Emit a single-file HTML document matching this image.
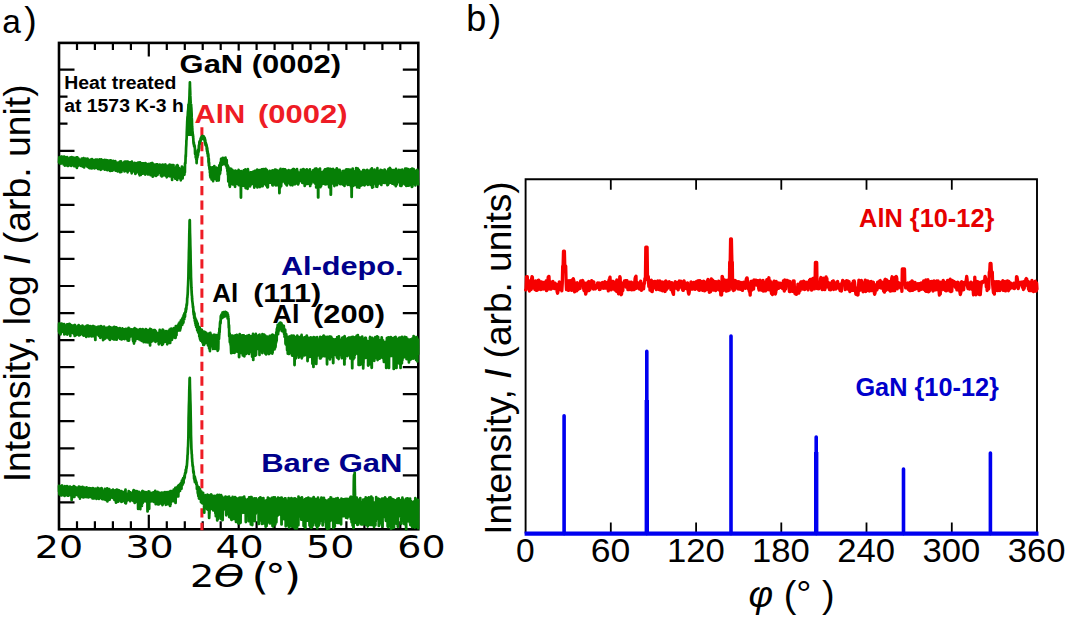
<!DOCTYPE html>
<html lang="en"><head><meta charset="utf-8"><title>XRD figure</title>
<style>html,body{margin:0;padding:0;background:#fff}svg{display:block}</style></head>
<body>
<svg width="1066" height="620" viewBox="0 0 1066 620">
<rect width="100%" height="100%" fill="#fff"/>
<path d="M77.0 42.9v7 M77.0 529.3v-8 M94.9 42.9v7 M94.9 529.3v-8 M112.9 42.9v7 M112.9 529.3v-8 M130.9 42.9v7 M130.9 529.3v-8 M148.8 42.9v13.5 M148.8 529.3v-14.5 M166.8 42.9v7 M166.8 529.3v-8 M184.8 42.9v7 M184.8 529.3v-8 M202.7 42.9v7 M202.7 529.3v-8 M220.7 42.9v7 M220.7 529.3v-8 M238.7 42.9v13.5 M238.7 529.3v-14.5 M256.6 42.9v7 M256.6 529.3v-8 M274.6 42.9v7 M274.6 529.3v-8 M292.5 42.9v7 M292.5 529.3v-8 M310.5 42.9v7 M310.5 529.3v-8 M328.5 42.9v13.5 M328.5 529.3v-14.5 M346.4 42.9v7 M346.4 529.3v-8 M364.4 42.9v7 M364.4 529.3v-8 M382.4 42.9v7 M382.4 529.3v-8 M400.3 42.9v7 M400.3 529.3v-8 M59.0 69.6h15.5 M418.3 69.6h-15.5 M59.0 96.6h15.5 M418.3 96.6h-15.5 M59.0 123.7h15.5 M418.3 123.7h-15.5 M59.0 150.8h15.5 M418.3 150.8h-15.5 M59.0 177.8h15.5 M418.3 177.8h-15.5 M59.0 204.8h15.5 M418.3 204.8h-15.5 M59.0 231.9h15.5 M418.3 231.9h-15.5 M59.0 258.9h15.5 M418.3 258.9h-15.5 M59.0 286.0h15.5 M418.3 286.0h-15.5 M59.0 313.1h15.5 M418.3 313.1h-15.5 M59.0 340.1h15.5 M418.3 340.1h-15.5 M59.0 367.1h15.5 M418.3 367.1h-15.5 M59.0 394.2h15.5 M418.3 394.2h-15.5 M59.0 421.2h15.5 M418.3 421.2h-15.5 M59.0 448.3h15.5 M418.3 448.3h-15.5 M59.0 475.4h15.5 M418.3 475.4h-15.5 M59.0 502.4h15.5 M418.3 502.4h-15.5" stroke="#000" stroke-width="2.2" fill="none"/>
<rect x="177" y="50.6" width="166" height="28" fill="#fff"/>
<rect x="67.5" y="74" width="118" height="60" fill="#fff"/>
<rect x="59.0" y="42.9" width="359.3" height="486.4" fill="none" stroke="#000" stroke-width="2.6"/>
<path d="M201.9 127.3V530.3" stroke="#ee1c25" stroke-width="3" stroke-dasharray="9.3 5.35" fill="none"/>
<path d="M59.0 485.9L59.1 491.6L59.3 491.7L59.4 494.2L59.6 493.5L59.7 489.9L59.8 494.3L60.0 487.0L60.1 493.2L60.3 494.7L60.4 486.5L60.5 486.9L60.7 495.3L60.8 493.8L61.0 494.7L61.1 494.6L61.2 486.2L61.4 494.4L61.5 489.3L61.7 491.1L61.8 485.7L61.9 495.3L62.1 485.6L62.2 485.6L62.4 489.2L62.5 486.9L62.6 488.2L62.8 487.0L62.9 487.7L63.1 492.8L63.2 494.3L63.3 493.4L63.5 486.9L63.6 491.4L63.8 494.3L63.9 489.1L64.0 495.3L64.2 490.2L64.3 494.9L64.5 494.0L64.6 495.9L64.7 486.6L64.9 486.2L65.0 489.6L65.2 494.2L65.3 493.2L65.4 494.0L65.6 491.2L65.7 494.8L65.9 492.7L66.0 486.7L66.1 493.5L66.3 494.8L66.4 493.7L66.6 487.0L66.7 492.3L66.8 488.2L67.0 486.1L67.1 487.2L67.3 492.2L67.4 487.3L67.5 486.5L67.7 495.7L67.8 491.4L68.0 493.3L68.1 489.3L68.2 488.2L68.4 495.0L68.5 495.6L68.7 494.4L68.8 493.6L68.9 486.8L69.1 494.1L69.2 493.6L69.4 494.2L69.5 487.4L69.6 487.8L69.8 487.1L69.9 489.3L70.1 486.6L70.2 488.0L70.3 493.4L70.5 487.6L70.6 493.3L70.8 495.5L70.9 489.1L71.0 487.2L71.2 490.7L71.3 495.0L71.5 490.8L71.6 500.0L71.7 500.0L71.9 492.8L72.0 487.3L72.2 492.0L72.3 492.7L72.4 493.5L72.6 494.9L72.7 494.6L72.9 487.6L73.0 487.4L73.1 487.0L73.3 493.5L73.4 489.6L73.6 497.0L73.7 490.0L73.8 486.2L74.0 486.9L74.1 495.3L74.3 495.4L74.4 497.0L74.5 488.4L74.7 486.6L74.8 492.7L75.0 488.4L75.1 487.3L75.2 488.2L75.4 490.1L75.5 489.9L75.7 488.7L75.8 494.9L75.9 491.0L76.1 493.5L76.2 493.7L76.4 487.5L76.5 488.4L76.6 488.4L76.8 494.1L76.9 489.4L77.1 494.3L77.2 492.9L77.3 494.4L77.5 493.7L77.6 494.8L77.8 489.6L77.9 493.9L78.0 487.6L78.2 493.9L78.3 492.4L78.5 487.3L78.6 496.6L78.7 492.7L78.9 486.6L79.0 489.7L79.2 492.5L79.3 490.2L79.4 488.7L79.6 492.5L79.7 487.9L79.9 496.2L80.0 498.6L80.1 490.1L80.3 494.6L80.4 489.3L80.6 487.2L80.7 495.3L80.8 488.5L81.0 488.0L81.1 495.8L81.3 494.1L81.4 495.8L81.5 491.3L81.7 487.7L81.8 493.2L82.0 496.6L82.1 488.5L82.2 489.1L82.4 491.4L82.5 486.9L82.7 496.0L82.8 488.1L82.9 488.5L83.1 492.3L83.2 497.4L83.4 491.8L83.5 497.4L83.6 488.0L83.8 495.6L83.9 495.4L84.1 495.2L84.2 487.5L84.3 492.9L84.5 489.9L84.6 497.0L84.8 491.1L84.9 495.1L85.0 494.6L85.2 495.5L85.3 496.6L85.5 489.1L85.6 494.9L85.7 496.7L85.9 492.6L86.0 496.4L86.2 488.9L86.3 497.1L86.4 490.2L86.6 487.3L86.7 489.0L86.9 490.7L87.0 495.8L87.1 496.1L87.3 489.3L87.4 495.2L87.6 494.9L87.7 496.7L87.8 490.1L88.0 491.6L88.1 492.4L88.3 497.4L88.4 494.5L88.5 497.0L88.7 490.4L88.8 491.0L89.0 495.3L89.1 488.2L89.2 493.6L89.4 495.5L89.5 496.8L89.7 489.4L89.8 490.6L89.9 495.8L90.1 489.1L90.2 490.9L90.4 488.4L90.5 497.0L90.6 490.6L90.8 494.5L90.9 488.5L91.1 495.1L91.2 491.3L91.3 488.7L91.5 496.6L91.6 496.6L91.8 497.5L91.9 496.4L92.0 490.5L92.2 494.7L92.3 492.5L92.5 498.5L92.6 488.4L92.7 491.9L92.9 488.0L93.0 489.0L93.2 493.0L93.3 493.5L93.4 490.3L93.6 489.5L93.7 493.2L93.9 490.3L94.0 497.9L94.1 498.4L94.3 495.8L94.4 494.8L94.6 494.2L94.7 496.5L94.8 496.1L95.0 488.9L95.1 490.6L95.3 488.6L95.4 490.3L95.5 496.0L95.7 489.5L95.8 489.3L96.0 493.4L96.1 496.6L96.2 494.1L96.4 488.8L96.5 498.9L96.7 494.3L96.8 489.7L96.9 496.7L97.1 497.8L97.2 488.6L97.4 492.0L97.5 489.1L97.6 490.2L97.8 487.8L97.9 492.7L98.1 488.3L98.2 496.4L98.3 492.8L98.5 489.6L98.6 488.5L98.8 493.7L98.9 490.5L99.0 498.9L99.2 497.3L99.3 498.5L99.5 489.4L99.6 492.1L99.7 496.3L99.9 492.0L100.0 496.2L100.2 495.4L100.3 488.6L100.4 494.3L100.6 493.0L100.7 490.9L100.9 493.4L101.0 492.2L101.1 489.8L101.3 489.9L101.4 497.4L101.6 495.3L101.7 488.6L101.8 488.2L102.0 498.9L102.1 495.1L102.3 499.1L102.4 497.9L102.5 494.1L102.7 491.4L102.8 498.3L103.0 495.9L103.1 496.8L103.2 492.4L103.4 497.3L103.5 491.2L103.7 498.4L103.8 491.0L103.9 491.6L104.1 495.4L104.2 499.2L104.4 497.7L104.5 494.1L104.6 491.2L104.8 498.0L104.9 488.9L105.1 494.6L105.2 491.3L105.3 492.0L105.5 499.9L105.6 489.5L105.8 489.8L105.9 491.0L106.0 495.2L106.2 497.0L106.3 499.4L106.5 491.2L106.6 495.8L106.7 489.9L106.9 488.9L107.0 497.4L107.2 488.3L107.3 498.7L107.4 501.4L107.6 489.0L107.7 489.3L107.9 493.7L108.0 490.1L108.1 496.0L108.3 490.6L108.4 491.3L108.6 491.0L108.7 498.0L108.8 498.6L109.0 491.5L109.1 499.8L109.3 489.0L109.4 490.3L109.5 491.1L109.7 499.7L109.8 496.2L110.0 497.2L110.1 491.5L110.2 494.6L110.4 494.6L110.5 497.3L110.7 491.9L110.8 491.1L110.9 492.5L111.1 490.6L111.2 495.5L111.4 496.8L111.5 490.8L111.6 495.8L111.8 490.3L111.9 490.6L112.1 490.2L112.2 497.8L112.3 493.1L112.5 493.8L112.6 492.9L112.8 492.9L112.9 495.6L113.0 489.6L113.2 492.9L113.3 498.0L113.5 490.6L113.6 496.5L113.7 493.4L113.9 492.7L114.0 493.1L114.2 494.7L114.3 493.1L114.4 500.0L114.6 495.1L114.7 498.5L114.9 498.9L115.0 492.9L115.1 490.3L115.3 496.1L115.4 496.3L115.6 499.3L115.7 493.8L115.8 500.8L116.0 502.6L116.1 497.4L116.3 502.5L116.4 500.1L116.5 491.7L116.7 489.7L116.8 500.0L117.0 494.3L117.1 494.5L117.2 496.6L117.4 492.2L117.5 490.1L117.7 491.2L117.8 489.9L117.9 496.9L118.1 498.0L118.2 501.6L118.4 492.9L118.5 492.2L118.6 497.1L118.8 493.4L118.9 498.2L119.1 490.3L119.2 491.9L119.3 492.1L119.5 499.6L119.6 492.8L119.8 492.6L119.9 491.4L120.0 492.7L120.2 500.3L120.3 497.6L120.5 491.9L120.6 499.8L120.7 491.5L120.9 501.2L121.0 500.2L121.2 494.7L121.3 491.2L121.4 501.9L121.6 497.5L121.7 492.3L121.9 498.2L122.0 491.5L122.1 497.0L122.3 501.0L122.4 501.4L122.6 493.4L122.7 492.6L122.8 500.8L123.0 497.2L123.1 499.7L123.3 494.9L123.4 497.7L123.5 497.1L123.7 496.8L123.8 492.2L124.0 495.6L124.1 500.9L124.2 497.9L124.4 500.6L124.5 501.2L124.7 494.3L124.8 493.8L124.9 491.8L125.1 499.1L125.2 503.0L125.4 491.9L125.5 489.6L125.6 503.3L125.8 497.3L125.9 503.3L126.1 502.5L126.2 497.6L126.3 497.4L126.5 497.3L126.6 500.9L126.8 500.8L126.9 496.1L127.0 496.2L127.2 496.5L127.3 497.1L127.5 498.4L127.6 498.1L127.7 498.4L127.9 493.7L128.0 499.1L128.2 497.7L128.3 496.5L128.4 497.0L128.6 493.1L128.7 491.0L128.9 491.2L129.0 496.8L129.1 499.8L129.3 492.3L129.4 492.5L129.6 495.2L129.7 500.6L129.8 493.7L130.0 501.2L130.1 500.9L130.3 492.4L130.4 498.5L130.5 497.8L130.7 499.1L130.8 496.5L131.0 497.5L131.1 494.0L131.2 493.0L131.4 496.6L131.5 496.7L131.7 499.2L131.8 498.6L131.9 499.9L132.1 497.5L132.2 496.3L132.4 500.3L132.5 499.1L132.6 494.2L132.8 492.7L132.9 500.7L133.1 492.3L133.2 491.2L133.3 494.9L133.5 492.3L133.6 490.2L133.8 493.4L133.9 501.5L134.0 498.3L134.2 498.7L134.3 496.3L134.5 492.2L134.6 490.7L134.7 502.9L134.9 495.9L135.0 500.3L135.2 498.2L135.3 491.1L135.4 500.4L135.6 500.7L135.7 493.6L135.9 499.8L136.0 497.8L136.1 493.4L136.3 493.1L136.4 492.8L136.6 493.5L136.7 498.7L136.8 491.1L137.0 494.0L137.1 497.1L137.3 500.6L137.4 502.3L137.5 499.1L137.7 491.6L137.8 492.6L138.0 499.6L138.1 509.0L138.2 509.0L138.4 494.1L138.5 497.5L138.7 500.2L138.8 493.0L138.9 495.1L139.1 492.1L139.2 491.9L139.4 493.5L139.5 493.0L139.6 493.5L139.8 498.5L139.9 495.7L140.1 500.1L140.2 509.1L140.3 509.1L140.5 502.4L140.6 493.1L140.8 498.3L140.9 493.7L141.0 497.3L141.2 501.3L141.3 503.4L141.5 498.2L141.6 502.0L141.7 495.9L141.9 505.9L142.0 501.2L142.2 503.4L142.3 491.2L142.4 500.2L142.6 499.4L142.7 491.0L142.9 502.8L143.0 491.9L143.1 497.5L143.3 502.0L143.4 501.1L143.6 501.7L143.7 491.7L143.8 499.7L144.0 499.9L144.1 495.3L144.3 493.0L144.4 494.7L144.5 498.5L144.7 500.5L144.8 494.3L145.0 499.5L145.1 498.7L145.2 493.9L145.4 499.4L145.5 492.6L145.7 494.5L145.8 495.2L145.9 492.1L146.1 501.5L146.2 494.4L146.4 496.5L146.5 501.0L146.6 498.0L146.8 500.2L146.9 497.1L147.1 499.4L147.2 501.5L147.3 492.7L147.5 511.5L147.6 511.5L147.8 498.0L147.9 495.4L148.0 492.4L148.2 501.3L148.3 501.8L148.5 503.9L148.6 491.3L148.7 498.0L148.9 503.5L149.0 508.8L149.2 508.8L149.3 493.2L149.4 491.7L149.6 497.7L149.7 501.0L149.9 498.6L150.0 496.4L150.1 498.1L150.3 499.8L150.4 499.0L150.6 495.1L150.7 500.9L150.8 499.4L151.0 500.7L151.1 501.4L151.3 497.5L151.4 493.6L151.5 495.1L151.7 493.0L151.8 493.7L152.0 496.3L152.1 497.4L152.2 499.7L152.4 493.4L152.5 492.5L152.7 500.2L152.8 493.7L152.9 496.0L153.1 500.9L153.2 496.0L153.4 494.3L153.5 501.8L153.6 501.4L153.8 493.8L153.9 494.9L154.1 492.0L154.2 493.9L154.3 495.9L154.5 493.0L154.6 492.1L154.8 493.6L154.9 499.3L155.0 495.4L155.2 490.8L155.3 492.1L155.5 492.9L155.6 499.4L155.7 504.2L155.9 503.9L156.0 503.4L156.2 500.9L156.3 501.7L156.4 492.6L156.6 494.4L156.7 496.0L156.9 494.9L157.0 500.4L157.1 494.2L157.3 493.7L157.4 501.1L157.6 491.8L157.7 499.1L157.8 501.8L158.0 501.4L158.1 504.4L158.3 501.7L158.4 492.8L158.5 502.8L158.7 504.5L158.8 500.5L159.0 498.8L159.1 496.7L159.2 493.5L159.4 492.7L159.5 493.9L159.7 501.4L159.8 495.9L159.9 500.8L160.1 493.8L160.2 494.9L160.4 501.0L160.5 503.4L160.6 503.3L160.8 493.8L160.9 494.8L161.1 497.8L161.2 499.7L161.3 492.8L161.5 494.5L161.6 492.5L161.8 503.8L161.9 502.1L162.0 499.2L162.2 499.8L162.3 501.9L162.5 505.1L162.6 497.0L162.7 495.3L162.9 504.3L163.0 501.6L163.2 502.3L163.3 492.5L163.4 496.6L163.6 494.2L163.7 495.9L163.9 494.1L164.0 499.1L164.1 492.6L164.3 500.5L164.4 499.1L164.6 501.8L164.7 499.8L164.8 493.3L165.0 492.2L165.1 493.5L165.3 503.2L165.4 497.0L165.5 495.3L165.7 502.6L165.8 504.8L166.0 494.1L166.1 494.4L166.2 493.4L166.4 503.4L166.5 492.3L166.7 499.6L166.8 500.7L166.9 504.2L167.1 492.0L167.2 496.9L167.4 501.9L167.5 496.9L167.6 501.7L167.8 492.7L167.9 501.1L168.1 492.8L168.2 504.1L168.3 501.1L168.5 493.7L168.6 492.0L168.8 495.2L168.9 499.7L169.0 495.4L169.2 492.1L169.3 495.9L169.5 495.7L169.6 492.2L169.7 500.8L169.9 492.5L170.0 506.0L170.2 506.0L170.3 504.7L170.4 491.2L170.6 504.5L170.7 493.6L170.9 492.6L171.0 493.5L171.1 502.1L171.3 494.3L171.4 491.2L171.6 492.4L171.7 498.9L171.8 495.5L172.0 492.4L172.1 500.0L172.3 492.3L172.4 493.3L172.5 493.7L172.7 500.8L172.8 491.2L173.0 493.2L173.1 498.7L173.2 491.1L173.4 501.0L173.5 501.2L173.7 489.6L173.8 492.8L173.9 496.7L174.1 495.6L174.2 493.8L174.4 492.8L174.5 489.6L174.6 495.8L174.8 492.1L174.9 492.9L175.1 488.7L175.2 496.4L175.3 487.9L175.5 502.9L175.6 502.9L175.8 495.1L175.9 490.4L176.0 494.1L176.2 495.2L176.3 489.2L176.5 490.9L176.6 487.5L176.7 494.8L176.9 490.0L177.0 491.9L177.2 489.2L177.3 490.4L177.4 494.0L177.6 488.5L177.7 489.1L177.9 490.8L178.0 486.0L178.1 496.4L178.3 496.4L178.4 493.5L178.6 486.9L178.7 492.2L178.8 485.1L179.0 488.2L179.1 488.1L179.3 485.2L179.4 489.7L179.5 490.1L179.7 490.5L179.8 490.5L180.0 490.9L180.1 484.4L180.2 488.8L180.4 488.1L180.5 484.7L180.7 487.8L180.8 487.2L180.9 483.1L181.1 487.1L181.2 488.4L181.4 487.0L181.5 488.6L181.6 484.1L181.8 481.5L181.9 480.7L182.1 485.3L182.2 483.0L182.3 483.0L182.5 482.8L182.6 484.7L182.8 479.2L182.9 480.8L183.0 483.8L183.2 478.2L183.3 479.4L183.5 482.6L183.6 482.6L183.7 478.5L183.9 479.3L184.0 477.7L184.2 478.9L184.3 476.2L184.4 475.9L184.6 477.5L184.7 477.7L184.9 474.2L185.0 473.9L185.1 473.1L185.3 473.9L185.4 473.0L185.6 472.3L185.7 469.8L185.8 472.9L186.0 471.6L186.1 470.9L186.3 467.9L186.4 466.5L186.5 468.3L186.7 466.2L186.8 466.5L187.0 463.8L187.1 462.7L187.2 460.6L187.4 458.5L187.5 455.4L187.7 454.1L187.8 451.4L187.9 448.1L188.1 446.1L188.2 442.4L188.4 436.2L188.5 427.4L188.6 418.0L188.8 410.9L188.9 405.5L189.1 400.3L189.2 394.8L189.3 389.3L189.5 384.0L189.6 378.6L189.8 377.8L189.9 383.2L190.0 388.5L190.2 393.9L190.3 399.3L190.5 404.8L190.6 410.2L190.7 416.4L190.9 425.5L191.0 434.7L191.2 441.2L191.3 444.8L191.4 448.6L191.6 451.1L191.7 453.7L191.9 454.6L192.0 458.3L192.1 458.2L192.3 462.2L192.4 462.2L192.6 466.0L192.7 464.8L192.8 466.8L193.0 466.4L193.1 468.4L193.3 472.2L193.4 470.1L193.5 472.9L193.7 471.6L193.8 473.0L194.0 476.6L194.1 478.8L194.2 478.5L194.4 478.1L194.5 478.9L194.7 481.1L194.8 476.6L194.9 482.2L195.1 477.9L195.2 478.5L195.4 480.6L195.5 481.1L195.6 480.8L195.8 480.3L195.9 482.0L196.1 481.5L196.2 483.2L196.3 484.3L196.5 482.4L196.6 484.7L196.8 484.5L196.9 488.9L197.0 484.9L197.2 488.3L197.3 487.7L197.5 488.0L197.6 486.3L197.7 492.2L197.9 493.6L198.0 487.1L198.2 490.6L198.3 495.6L198.4 496.2L198.6 487.0L198.7 487.0L198.9 487.8L199.0 498.6L199.1 488.3L199.3 497.5L199.4 490.3L199.6 489.0L199.7 492.3L199.8 490.5L200.0 489.1L200.1 498.4L200.3 491.8L200.4 499.2L200.5 494.2L200.7 494.5L200.8 492.5L201.0 502.2L201.1 493.5L201.2 501.2L201.4 491.6L201.5 502.2L201.7 501.7L201.8 500.7L201.9 495.9L202.1 501.2L202.2 503.2L202.4 503.1L202.5 492.5L202.6 495.0L202.8 503.2L202.9 496.6L203.1 492.9L203.2 496.6L203.3 500.6L203.5 499.8L203.6 503.9L203.8 500.0L203.9 502.3L204.0 501.8L204.2 512.7L204.3 512.7L204.5 498.4L204.6 496.1L204.7 496.5L204.9 504.6L205.0 505.1L205.2 502.5L205.3 496.4L205.4 496.1L205.6 495.2L205.7 496.9L205.9 495.7L206.0 497.3L206.1 497.6L206.3 498.9L206.4 498.8L206.6 498.9L206.7 496.3L206.8 503.0L207.0 508.9L207.1 505.1L207.3 505.7L207.4 495.5L207.5 494.6L207.7 509.7L207.8 498.5L208.0 502.2L208.1 495.8L208.2 507.1L208.4 499.8L208.5 502.6L208.7 505.3L208.8 495.3L208.9 506.6L209.1 517.9L209.2 517.9L209.4 513.4L209.5 513.4L209.6 504.3L209.8 510.1L209.9 509.6L210.1 500.3L210.2 496.7L210.3 500.0L210.5 505.7L210.6 495.8L210.8 494.6L210.9 497.6L211.0 494.7L211.2 501.5L211.3 494.5L211.5 497.7L211.6 497.1L211.7 509.0L211.9 503.8L212.0 499.0L212.2 495.7L212.3 508.4L212.4 496.4L212.6 501.0L212.7 505.5L212.9 497.0L213.0 505.1L213.1 498.1L213.3 510.5L213.4 510.0L213.6 506.9L213.7 505.8L213.8 497.6L214.0 509.7L214.1 505.7L214.3 507.9L214.4 500.5L214.5 495.9L214.7 496.2L214.8 508.8L215.0 498.3L215.1 508.7L215.2 498.6L215.4 513.6L215.5 513.6L215.7 497.8L215.8 516.2L215.9 516.2L216.1 495.8L216.2 504.2L216.4 511.1L216.5 510.0L216.6 510.4L216.8 497.3L216.9 495.3L217.1 497.9L217.2 520.5L217.3 520.5L217.5 498.9L217.6 494.8L217.8 496.4L217.9 509.4L218.0 507.0L218.2 507.2L218.3 496.4L218.5 518.6L218.6 515.2L218.7 515.2L218.9 512.2L219.0 500.9L219.2 497.3L219.3 495.2L219.4 499.7L219.6 495.1L219.7 497.8L219.9 506.3L220.0 499.6L220.1 496.1L220.3 499.1L220.4 500.5L220.6 500.3L220.7 499.4L220.8 507.7L221.0 508.2L221.1 495.1L221.3 519.2L221.4 519.2L221.5 507.6L221.7 515.0L221.8 515.0L222.0 497.9L222.1 499.9L222.2 496.7L222.4 503.6L222.5 520.1L222.7 520.1L222.8 497.8L222.9 508.7L223.1 508.1L223.2 501.0L223.4 505.5L223.5 500.0L223.6 499.2L223.8 509.3L223.9 508.9L224.1 508.4L224.2 499.4L224.3 505.4L224.5 506.0L224.6 498.1L224.8 498.9L224.9 507.2L225.0 497.3L225.2 501.2L225.3 508.2L225.5 496.5L225.6 509.7L225.7 497.0L225.9 510.0L226.0 508.4L226.2 515.3L226.3 515.3L226.4 500.2L226.6 497.6L226.7 500.1L226.9 501.2L227.0 500.5L227.1 498.6L227.3 497.0L227.4 498.1L227.6 512.0L227.7 499.5L227.8 505.3L228.0 513.6L228.1 507.9L228.3 498.4L228.4 506.7L228.5 512.7L228.7 498.2L228.8 500.7L229.0 510.1L229.1 496.5L229.2 517.1L229.4 517.1L229.5 506.1L229.7 506.1L229.8 501.9L229.9 509.6L230.1 501.4L230.2 498.2L230.4 510.1L230.5 505.7L230.6 510.5L230.8 501.5L230.9 507.2L231.1 501.0L231.2 519.0L231.3 519.0L231.5 519.9L231.6 519.9L231.8 502.1L231.9 499.1L232.0 510.4L232.2 514.1L232.3 501.9L232.5 502.5L232.6 496.9L232.7 504.2L232.9 518.9L233.0 518.9L233.2 508.7L233.3 510.5L233.4 499.7L233.6 501.0L233.7 501.9L233.9 498.7L234.0 518.9L234.1 518.9L234.3 506.5L234.4 506.8L234.6 500.2L234.7 510.2L234.8 507.4L235.0 497.2L235.1 513.6L235.3 498.8L235.4 509.2L235.5 497.5L235.7 497.6L235.8 514.6L236.0 521.9L236.1 521.9L236.2 516.6L236.4 498.0L236.5 507.2L236.7 513.3L236.8 502.2L236.9 514.2L237.1 519.8L237.2 519.8L237.4 498.5L237.5 518.7L237.6 518.7L237.8 498.9L237.9 511.6L238.1 502.7L238.2 516.7L238.3 523.4L238.5 523.4L238.6 499.4L238.8 514.5L238.9 509.5L239.0 515.7L239.2 512.4L239.3 497.7L239.5 497.6L239.6 507.3L239.7 523.2L239.9 523.2L240.0 506.1L240.2 501.2L240.3 507.9L240.4 522.7L240.6 522.7L240.7 497.5L240.9 509.0L241.0 502.8L241.1 498.0L241.3 500.3L241.4 509.8L241.6 506.3L241.7 513.1L241.8 507.6L242.0 507.0L242.1 497.6L242.3 509.0L242.4 508.3L242.5 501.4L242.7 510.3L242.8 512.2L243.0 497.5L243.1 501.6L243.2 499.8L243.4 509.3L243.5 511.8L243.7 512.6L243.8 512.4L243.9 507.2L244.1 510.1L244.2 496.7L244.4 510.5L244.5 507.8L244.6 499.2L244.8 499.3L244.9 503.3L245.1 498.8L245.2 499.8L245.3 508.9L245.5 511.3L245.6 508.1L245.8 522.1L245.9 522.1L246.0 513.3L246.2 510.7L246.3 511.8L246.5 500.3L246.6 504.6L246.7 512.4L246.9 510.0L247.0 511.2L247.2 511.1L247.3 503.7L247.4 511.9L247.6 500.9L247.7 511.8L247.9 499.1L248.0 500.7L248.1 499.6L248.3 511.0L248.4 512.7L248.6 499.4L248.7 521.2L248.8 521.2L249.0 505.7L249.1 497.3L249.3 503.8L249.4 499.9L249.5 509.6L249.7 500.1L249.8 505.7L250.0 500.1L250.1 499.1L250.2 511.8L250.4 497.8L250.5 502.1L250.7 497.1L250.8 524.5L250.9 524.5L251.1 524.5L251.2 502.8L251.4 502.6L251.5 507.1L251.6 497.2L251.8 511.2L251.9 513.3L252.1 500.7L252.2 525.1L252.3 525.1L252.5 498.6L252.6 513.3L252.8 507.1L252.9 514.4L253.0 504.0L253.2 514.7L253.3 508.0L253.5 498.8L253.6 501.7L253.7 509.2L253.9 514.1L254.0 519.0L254.2 519.0L254.3 504.5L254.4 498.3L254.6 512.8L254.7 521.1L254.9 521.1L255.0 511.2L255.1 514.1L255.3 510.3L255.4 507.0L255.6 511.7L255.7 513.7L255.8 501.2L256.0 507.3L256.1 498.4L256.3 508.7L256.4 509.0L256.5 500.7L256.7 501.0L256.8 505.6L257.0 512.1L257.1 506.5L257.2 500.6L257.4 499.9L257.5 509.3L257.7 501.8L257.8 501.2L257.9 503.4L258.1 506.6L258.2 500.1L258.4 500.3L258.5 501.0L258.6 524.0L258.8 524.0L258.9 508.7L259.1 510.4L259.2 512.1L259.3 498.0L259.5 507.2L259.6 500.4L259.8 499.3L259.9 512.7L260.0 515.1L260.2 511.5L260.3 497.3L260.5 512.5L260.6 497.7L260.7 500.8L260.9 520.5L261.0 520.5L261.2 502.3L261.3 507.1L261.4 514.0L261.6 500.5L261.7 502.8L261.9 524.0L262.0 524.0L262.1 498.8L262.3 522.2L262.4 522.2L262.6 499.5L262.7 506.4L262.8 515.2L263.0 501.9L263.1 504.5L263.3 508.2L263.4 498.1L263.5 512.9L263.7 508.0L263.8 507.1L264.0 511.8L264.1 523.5L264.2 523.5L264.4 504.0L264.5 522.7L264.7 522.7L264.8 508.2L264.9 508.8L265.1 503.8L265.2 508.8L265.4 500.8L265.5 510.2L265.6 526.7L265.8 526.7L265.9 504.9L266.1 511.0L266.2 504.0L266.3 515.6L266.5 525.9L266.6 525.9L266.8 500.0L266.9 507.4L267.0 504.5L267.2 516.6L267.3 499.9L267.5 511.3L267.6 503.8L267.7 518.0L267.9 497.6L268.0 522.2L268.2 522.2L268.3 520.3L268.4 520.3L268.6 521.1L268.7 521.1L268.9 501.2L269.0 504.0L269.1 512.6L269.3 505.3L269.4 500.1L269.6 498.5L269.7 507.6L269.8 523.4L270.0 523.4L270.1 510.7L270.3 502.5L270.4 512.3L270.5 501.7L270.7 511.1L270.8 515.9L271.0 499.7L271.1 512.0L271.2 510.9L271.4 502.6L271.5 511.6L271.7 511.5L271.8 512.2L271.9 497.8L272.1 500.0L272.2 508.7L272.4 508.5L272.5 526.1L272.6 526.1L272.8 504.4L272.9 499.1L273.1 526.6L273.2 526.6L273.3 499.2L273.5 497.4L273.6 501.5L273.8 519.4L273.9 519.4L274.0 515.4L274.2 497.7L274.3 501.9L274.5 513.7L274.6 503.7L274.7 501.0L274.9 497.4L275.0 514.9L275.2 524.4L275.3 524.4L275.4 498.6L275.6 500.0L275.7 512.1L275.9 516.0L276.0 508.2L276.1 514.1L276.3 522.3L276.4 522.3L276.6 500.4L276.7 516.6L276.8 511.0L277.0 514.8L277.1 503.5L277.3 516.0L277.4 510.5L277.5 506.8L277.7 513.3L277.8 504.8L278.0 497.5L278.1 506.3L278.2 504.4L278.4 512.8L278.5 514.6L278.7 513.9L278.8 502.3L278.9 511.7L279.1 502.0L279.2 510.5L279.4 513.1L279.5 504.7L279.6 503.8L279.8 507.1L279.9 513.5L280.1 498.6L280.2 498.2L280.3 514.4L280.5 498.1L280.6 499.0L280.8 501.8L280.9 504.5L281.0 514.1L281.2 514.2L281.3 502.8L281.5 524.4L281.6 524.4L281.7 497.6L281.9 499.5L282.0 515.1L282.2 501.2L282.3 512.2L282.4 501.3L282.6 499.5L282.7 509.0L282.9 499.5L283.0 510.4L283.1 503.2L283.3 505.4L283.4 511.9L283.6 499.2L283.7 510.0L283.8 519.1L284.0 519.1L284.1 512.2L284.3 498.9L284.4 500.0L284.5 512.9L284.7 501.8L284.8 513.9L285.0 498.4L285.1 514.7L285.2 510.2L285.4 515.0L285.5 498.4L285.7 526.3L285.8 526.3L285.9 514.5L286.1 500.3L286.2 522.8L286.4 522.8L286.5 525.6L286.6 525.6L286.8 505.6L286.9 520.2L287.1 520.6L287.2 520.6L287.3 505.9L287.5 523.3L287.6 523.3L287.8 507.8L287.9 510.7L288.0 509.4L288.2 512.8L288.3 511.4L288.5 513.9L288.6 498.0L288.7 512.5L288.9 499.6L289.0 527.5L289.2 527.5L289.3 527.3L289.4 527.3L289.6 522.1L289.7 522.1L289.9 513.5L290.0 512.5L290.1 501.9L290.3 500.0L290.4 515.0L290.6 513.7L290.7 498.9L290.8 500.8L291.0 498.6L291.1 504.3L291.3 500.3L291.4 498.1L291.5 512.8L291.7 499.9L291.8 499.5L292.0 526.4L292.1 526.4L292.2 503.4L292.4 519.7L292.5 519.7L292.7 512.0L292.8 501.0L292.9 512.6L293.1 514.9L293.2 498.9L293.4 510.6L293.5 499.6L293.6 527.1L293.8 527.1L293.9 499.2L294.1 501.6L294.2 502.8L294.3 498.6L294.5 507.0L294.6 516.1L294.8 513.6L294.9 498.4L295.0 528.3L295.2 528.3L295.3 518.6L295.5 505.4L295.6 502.0L295.7 504.7L295.9 498.9L296.0 508.1L296.2 523.2L296.3 527.9L296.4 527.9L296.6 506.5L296.7 500.1L296.9 508.3L297.0 528.3L297.1 524.2L297.3 524.2L297.4 512.8L297.6 513.1L297.7 506.4L297.8 522.2L298.0 522.2L298.1 519.8L298.3 525.2L298.4 525.2L298.5 496.6L298.7 501.1L298.8 513.8L299.0 501.3L299.1 515.1L299.2 498.3L299.4 501.9L299.5 503.3L299.7 513.8L299.8 516.4L299.9 503.7L300.1 513.6L300.2 511.3L300.4 506.9L300.5 503.7L300.6 498.6L300.8 508.6L300.9 512.8L301.1 497.8L301.2 508.4L301.3 519.7L301.5 519.7L301.6 502.0L301.8 497.8L301.9 517.4L302.0 497.3L302.2 499.3L302.3 514.6L302.5 499.9L302.6 503.4L302.7 514.3L302.9 506.6L303.0 511.6L303.2 512.8L303.3 507.4L303.4 505.6L303.6 525.9L303.7 525.9L303.9 513.2L304.0 503.4L304.1 511.6L304.3 501.5L304.4 526.7L304.6 526.7L304.7 520.4L304.8 520.4L305.0 499.0L305.1 511.7L305.3 527.8L305.4 527.8L305.5 503.2L305.7 499.2L305.8 511.0L306.0 498.6L306.1 508.4L306.2 501.1L306.4 498.4L306.5 512.9L306.7 502.9L306.8 503.9L306.9 501.0L307.1 513.3L307.2 520.7L307.4 520.7L307.5 500.9L307.6 509.5L307.8 502.8L307.9 513.0L308.1 500.4L308.2 514.4L308.3 497.5L308.5 504.2L308.6 511.3L308.8 498.4L308.9 508.7L309.0 508.1L309.2 498.3L309.3 512.2L309.5 525.6L309.6 525.6L309.7 524.2L309.9 524.2L310.0 501.6L310.2 503.3L310.3 511.5L310.4 502.8L310.6 519.8L310.7 519.8L310.9 498.5L311.0 514.8L311.1 527.8L311.3 527.8L311.4 498.8L311.6 498.8L311.7 506.7L311.8 527.3L312.0 527.3L312.1 504.2L312.3 520.3L312.4 520.3L312.5 510.4L312.7 502.6L312.8 513.1L313.0 500.8L313.1 525.2L313.2 525.2L313.4 497.6L313.5 516.5L313.7 497.1L313.8 499.8L313.9 511.6L314.1 514.5L314.2 516.9L314.4 503.7L314.5 505.7L314.6 503.3L314.8 513.4L314.9 519.9L315.1 519.9L315.2 499.1L315.3 522.5L315.5 522.5L315.6 509.5L315.8 507.9L315.9 514.7L316.0 499.1L316.2 521.2L316.3 525.6L316.5 525.6L316.6 515.5L316.7 513.0L316.9 511.9L317.0 501.9L317.2 528.2L317.3 528.2L317.4 513.2L317.6 500.7L317.7 519.9L317.9 519.9L318.0 497.6L318.1 514.5L318.3 504.2L318.4 514.6L318.6 525.6L318.7 525.6L318.8 515.6L319.0 499.7L319.1 516.5L319.3 511.7L319.4 523.8L319.5 523.8L319.7 512.4L319.8 509.0L320.0 509.8L320.1 511.4L320.2 510.9L320.4 504.3L320.5 501.5L320.7 520.7L320.8 520.7L320.9 503.9L321.1 512.1L321.2 510.7L321.4 497.6L321.5 510.7L321.6 508.6L321.8 508.5L321.9 510.0L322.1 497.8L322.2 498.8L322.3 508.4L322.5 514.5L322.6 525.3L322.8 525.3L322.9 505.8L323.0 522.8L323.2 522.8L323.3 518.0L323.5 509.6L323.6 515.0L323.7 499.5L323.9 497.9L324.0 498.2L324.2 503.6L324.3 514.1L324.4 511.6L324.6 515.4L324.7 510.3L324.9 514.2L325.0 503.5L325.1 502.4L325.3 514.7L325.4 502.5L325.6 503.0L325.7 500.4L325.8 514.7L326.0 520.4L326.1 526.9L326.3 526.9L326.4 525.0L326.5 525.0L326.7 508.5L326.8 506.1L327.0 510.1L327.1 514.5L327.2 528.8L327.4 528.8L327.5 504.3L327.7 505.1L327.8 507.9L327.9 508.2L328.1 526.4L328.2 526.4L328.4 499.8L328.5 502.1L328.6 499.8L328.8 512.1L328.9 499.8L329.1 528.2L329.2 528.2L329.3 500.6L329.5 500.2L329.6 520.2L329.8 520.2L329.9 501.0L330.0 504.0L330.2 508.7L330.3 520.8L330.5 520.8L330.6 497.4L330.7 515.9L330.9 500.4L331.0 503.6L331.2 497.5L331.3 517.4L331.4 500.2L331.6 510.9L331.7 508.4L331.9 515.5L332.0 514.7L332.1 506.5L332.3 515.7L332.4 504.1L332.6 502.8L332.7 502.2L332.8 500.0L333.0 501.3L333.1 513.5L333.3 527.8L333.4 527.8L333.5 507.6L333.7 499.2L333.8 504.7L334.0 501.3L334.1 515.6L334.2 517.7L334.4 513.6L334.5 514.1L334.7 526.6L334.8 526.6L334.9 504.5L335.1 499.2L335.2 523.0L335.4 523.0L335.5 505.2L335.6 505.6L335.8 504.9L335.9 498.5L336.1 522.5L336.2 522.5L336.3 515.9L336.5 512.2L336.6 510.8L336.8 498.8L336.9 503.3L337.0 500.5L337.2 509.3L337.3 499.6L337.5 522.9L337.6 522.9L337.7 498.0L337.9 499.6L338.0 503.1L338.2 502.7L338.3 514.6L338.4 501.3L338.6 513.6L338.7 513.3L338.9 511.2L339.0 501.8L339.1 513.3L339.3 504.8L339.4 500.0L339.6 523.0L339.7 523.0L339.8 514.6L340.0 506.1L340.1 509.8L340.3 505.2L340.4 516.7L340.5 500.4L340.7 506.2L340.8 509.6L341.0 524.3L341.1 524.3L341.2 502.7L341.4 498.7L341.5 505.6L341.7 516.7L341.8 511.6L341.9 504.7L342.1 509.2L342.2 504.2L342.4 506.2L342.5 516.2L342.6 500.0L342.8 500.8L342.9 515.8L343.1 508.1L343.2 499.4L343.3 506.4L343.5 516.2L343.6 514.0L343.8 509.5L343.9 515.1L344.0 513.1L344.2 510.2L344.3 504.4L344.5 504.5L344.6 499.1L344.7 512.9L344.9 500.7L345.0 504.9L345.2 515.4L345.3 503.9L345.4 499.2L345.6 515.7L345.7 503.5L345.9 515.1L346.0 517.7L346.1 498.8L346.3 511.6L346.4 509.8L346.6 513.5L346.7 504.6L346.8 516.6L347.0 501.3L347.1 499.2L347.3 518.1L347.4 514.3L347.5 499.1L347.7 508.5L347.8 503.8L348.0 500.2L348.1 510.6L348.2 501.7L348.4 511.9L348.5 505.0L348.7 511.4L348.8 499.1L348.9 510.9L349.1 514.3L349.2 516.4L349.4 514.2L349.5 512.7L349.6 499.3L349.8 498.3L349.9 513.7L350.1 500.8L350.2 497.8L350.3 512.9L350.5 498.9L350.6 496.8L350.8 519.1L350.9 499.2L351.0 497.5L351.2 496.7L351.3 518.0L351.5 510.8L351.6 522.3L351.7 522.3L351.9 520.5L352.0 517.5L352.2 512.0L352.3 516.9L352.4 499.1L352.6 525.5L352.7 525.5L352.9 511.0L353.0 517.9L353.1 499.3L353.3 497.6L353.4 527.9L353.6 527.9L353.7 491.5L353.8 481.4L354.0 475.1L354.1 475.7L354.3 475.6L354.4 474.9L354.5 474.5L354.7 472.6L354.8 486.4L355.0 493.2L355.1 520.9L355.2 520.9L355.4 509.0L355.5 509.1L355.7 514.0L355.8 504.7L355.9 505.2L356.1 522.9L356.2 522.9L356.4 511.4L356.5 515.3L356.6 513.0L356.8 497.5L356.9 501.7L357.1 512.8L357.2 499.2L357.3 524.8L357.5 524.8L357.6 505.0L357.8 499.6L357.9 499.5L358.0 524.5L358.2 524.5L358.3 523.6L358.5 523.6L358.6 521.2L358.7 521.2L358.9 522.0L359.0 522.0L359.2 518.1L359.3 518.1L359.4 516.0L359.6 516.1L359.7 519.9L359.9 516.2L360.0 515.6L360.1 512.6L360.3 498.0L360.4 512.1L360.6 513.9L360.7 506.3L360.8 510.4L361.0 516.6L361.1 515.0L361.3 524.5L361.4 524.5L361.5 513.8L361.7 504.8L361.8 505.1L362.0 502.0L362.1 511.4L362.2 511.8L362.4 505.5L362.5 524.5L362.7 524.5L362.8 502.0L362.9 511.0L363.1 511.1L363.2 499.5L363.4 510.6L363.5 507.4L363.6 521.9L363.8 521.9L363.9 510.6L364.1 510.7L364.2 511.3L364.3 500.0L364.5 522.3L364.6 522.3L364.8 501.2L364.9 516.6L365.0 503.9L365.2 514.8L365.3 503.9L365.5 524.7L365.6 524.7L365.7 497.4L365.9 499.3L366.0 511.4L366.2 499.5L366.3 498.6L366.4 502.8L366.6 507.5L366.7 512.1L366.9 504.8L367.0 509.8L367.1 509.5L367.3 512.4L367.4 498.4L367.6 500.7L367.7 526.6L367.8 526.0L368.0 526.0L368.1 514.2L368.3 500.7L368.4 501.2L368.5 510.1L368.7 514.8L368.8 497.3L369.0 519.9L369.1 502.5L369.2 504.7L369.4 502.3L369.5 503.7L369.7 500.5L369.8 514.3L369.9 515.3L370.1 510.5L370.2 498.2L370.4 500.9L370.5 525.0L370.6 525.0L370.8 497.9L370.9 521.1L371.1 510.1L371.2 496.7L371.3 496.7L371.5 500.9L371.6 498.5L371.8 525.0L371.9 525.0L372.0 510.7L372.2 515.3L372.3 498.9L372.5 497.9L372.6 517.2L372.7 520.9L372.9 520.9L373.0 513.8L373.2 515.8L373.3 508.2L373.4 511.8L373.6 504.6L373.7 502.4L373.9 510.2L374.0 526.9L374.1 526.9L374.3 513.2L374.4 504.0L374.6 518.1L374.7 517.6L374.8 521.1L375.0 521.1L375.1 515.4L375.3 525.2L375.4 525.2L375.5 518.6L375.7 520.1L375.8 521.2L376.0 510.3L376.1 501.7L376.2 497.0L376.4 518.8L376.5 510.8L376.7 514.3L376.8 499.1L376.9 513.3L377.1 505.0L377.2 510.7L377.4 498.5L377.5 514.3L377.6 511.7L377.8 500.6L377.9 513.3L378.1 508.7L378.2 512.6L378.3 498.7L378.5 516.3L378.6 515.0L378.8 526.0L378.9 526.0L379.0 512.9L379.2 525.3L379.3 525.3L379.5 499.4L379.6 510.7L379.7 502.8L379.9 502.1L380.0 504.3L380.2 511.1L380.3 509.5L380.4 516.0L380.6 520.8L380.7 520.8L380.9 513.0L381.0 512.3L381.1 516.0L381.3 509.7L381.4 501.7L381.6 503.0L381.7 522.9L381.8 522.9L382.0 498.6L382.1 524.5L382.3 524.5L382.4 526.5L382.5 526.5L382.7 499.6L382.8 517.0L383.0 500.2L383.1 510.1L383.2 498.6L383.4 508.5L383.5 510.6L383.7 500.0L383.8 503.2L383.9 511.5L384.1 514.5L384.2 513.0L384.4 508.4L384.5 504.6L384.6 516.9L384.8 515.4L384.9 499.9L385.1 497.4L385.2 506.3L385.3 502.6L385.5 500.7L385.6 504.0L385.8 520.8L385.9 520.8L386.0 514.4L386.2 503.0L386.3 503.7L386.5 515.5L386.6 499.1L386.7 506.4L386.9 510.8L387.0 513.3L387.2 516.1L387.3 500.6L387.4 501.3L387.6 526.2L387.7 522.1L387.9 522.1L388.0 527.2L388.1 527.2L388.3 509.8L388.4 502.9L388.6 506.7L388.7 515.5L388.8 526.1L389.0 526.1L389.1 498.4L389.3 497.5L389.4 510.8L389.5 512.7L389.7 510.2L389.8 499.4L390.0 520.8L390.1 520.8L390.2 520.9L390.4 519.2L390.5 497.3L390.7 499.6L390.8 519.6L390.9 528.7L391.1 528.7L391.2 522.0L391.4 522.0L391.5 518.7L391.6 498.5L391.8 499.0L391.9 512.0L392.1 504.1L392.2 506.8L392.3 506.5L392.5 499.5L392.6 512.2L392.8 516.0L392.9 527.9L393.0 527.9L393.2 521.9L393.3 521.9L393.5 499.5L393.6 499.4L393.7 527.2L393.9 527.7L394.0 527.7L394.2 504.0L394.3 500.3L394.4 505.6L394.6 517.7L394.7 516.5L394.9 503.3L395.0 517.6L395.1 516.3L395.3 509.7L395.4 509.7L395.6 504.8L395.7 500.3L395.8 508.5L396.0 501.8L396.1 523.6L396.3 523.6L396.4 512.3L396.5 501.9L396.7 506.4L396.8 517.1L397.0 504.1L397.1 523.3L397.2 523.3L397.4 498.9L397.5 513.8L397.7 508.7L397.8 526.8L397.9 526.8L398.1 510.5L398.2 500.5L398.4 503.1L398.5 499.7L398.6 512.5L398.8 498.3L398.9 510.6L399.1 514.6L399.2 509.2L399.3 509.1L399.5 500.4L399.6 511.5L399.8 512.7L399.9 512.9L400.0 502.1L400.2 500.1L400.3 510.3L400.5 505.5L400.6 513.3L400.7 516.6L400.9 516.3L401.0 501.7L401.2 502.1L401.3 523.8L401.4 523.8L401.6 501.8L401.7 504.0L401.9 516.5L402.0 520.4L402.1 515.2L402.3 503.9L402.4 497.7L402.6 502.6L402.7 501.2L402.8 502.8L403.0 517.1L403.1 515.8L403.3 508.8L403.4 499.4L403.5 502.1L403.7 502.1L403.8 512.4L404.0 500.6L404.1 510.9L404.2 524.1L404.4 524.1L404.5 509.7L404.7 501.3L404.8 501.3L404.9 510.9L405.1 509.4L405.2 503.4L405.4 510.7L405.5 511.3L405.6 511.3L405.8 511.4L405.9 512.7L406.1 529.2L406.2 529.2L406.3 498.6L406.5 503.0L406.6 502.5L406.8 499.9L406.9 511.1L407.0 501.4L407.2 521.4L407.3 521.4L407.5 503.7L407.6 504.4L407.7 498.4L407.9 502.8L408.0 506.5L408.2 503.3L408.3 505.6L408.4 515.0L408.6 505.7L408.7 499.5L408.9 513.1L409.0 503.1L409.1 514.7L409.3 504.0L409.4 499.0L409.6 500.2L409.7 515.9L409.8 522.7L410.0 522.7L410.1 498.6L410.3 525.1L410.4 525.1L410.5 507.4L410.7 515.0L410.8 509.5L411.0 503.8L411.1 501.0L411.2 504.6L411.4 514.5L411.5 503.1L411.7 521.7L411.8 522.2L411.9 522.2L412.1 504.4L412.2 527.1L412.4 527.1L412.5 505.1L412.6 510.2L412.8 510.3L412.9 512.1L413.1 504.8L413.2 515.0L413.3 505.2L413.5 505.0L413.6 504.0L413.8 502.8L413.9 504.5L414.0 501.3L414.2 501.9L414.3 505.0L414.5 506.1L414.6 527.6L414.7 527.6L414.9 516.9L415.0 506.2L415.2 512.4L415.3 498.1L415.4 498.6L415.6 527.0L415.7 522.0L415.9 522.0L416.0 509.4L416.1 526.5L416.3 526.5L416.4 514.9L416.6 506.0L416.7 500.8L416.8 514.7L417.0 513.5L417.1 499.9L417.3 510.5L417.4 515.3L417.5 502.6L417.7 514.7L417.8 513.6L418.0 528.2L418.1 528.2L418.2 500.1" stroke="#067f06" stroke-width="2.7" fill="none" stroke-linejoin="round" stroke-linecap="round"/>
<path d="M59.0 331.6L59.1 323.7L59.3 332.7L59.4 332.7L59.6 325.4L59.7 331.8L59.8 323.5L60.0 327.4L60.1 333.2L60.3 333.8L60.4 333.3L60.5 334.4L60.7 333.7L60.8 325.5L61.0 324.6L61.1 331.8L61.2 329.7L61.4 323.9L61.5 326.3L61.7 323.9L61.8 327.1L61.9 325.4L62.1 326.6L62.2 323.8L62.4 331.6L62.5 325.5L62.6 328.1L62.8 326.8L62.9 326.1L63.1 331.0L63.2 330.0L63.3 331.3L63.5 327.2L63.6 328.0L63.8 329.1L63.9 330.2L64.0 332.9L64.2 324.2L64.3 334.4L64.5 333.8L64.6 325.2L64.7 327.9L64.9 331.9L65.0 326.9L65.2 327.0L65.3 327.8L65.4 326.2L65.6 333.6L65.7 333.7L65.9 331.7L66.0 332.3L66.1 332.7L66.3 328.5L66.4 332.2L66.6 332.1L66.7 330.3L66.8 332.1L67.0 332.8L67.1 324.4L67.3 330.7L67.4 334.6L67.5 333.9L67.7 327.4L67.8 324.5L68.0 326.0L68.1 324.3L68.2 324.2L68.4 325.9L68.5 328.1L68.7 333.2L68.8 327.2L68.9 331.6L69.1 332.4L69.2 326.0L69.4 324.3L69.5 324.6L69.6 323.9L69.8 327.8L69.9 327.8L70.1 324.3L70.2 327.6L70.3 336.0L70.5 328.8L70.6 325.6L70.8 325.3L70.9 330.8L71.0 325.0L71.2 333.0L71.3 326.9L71.5 330.5L71.6 328.7L71.7 330.0L71.9 331.6L72.0 330.6L72.2 330.5L72.3 325.8L72.4 330.5L72.6 332.4L72.7 325.5L72.9 332.7L73.0 331.3L73.1 327.2L73.3 328.5L73.4 327.3L73.6 326.7L73.7 333.7L73.8 327.5L74.0 332.3L74.1 326.2L74.3 331.3L74.4 330.2L74.5 325.0L74.7 336.0L74.8 328.3L75.0 325.2L75.1 328.6L75.2 326.2L75.4 330.5L75.5 335.7L75.7 334.1L75.8 328.0L75.9 333.5L76.1 327.6L76.2 327.3L76.4 330.5L76.5 333.2L76.6 334.6L76.8 329.1L76.9 329.7L77.1 332.9L77.2 327.6L77.3 326.8L77.5 333.3L77.6 332.4L77.8 325.8L77.9 334.0L78.0 328.3L78.2 331.1L78.3 332.6L78.5 325.8L78.6 332.9L78.7 325.2L78.9 331.0L79.0 335.5L79.2 330.0L79.3 331.2L79.4 326.3L79.6 332.7L79.7 330.7L79.9 326.1L80.0 326.3L80.1 334.9L80.3 327.1L80.4 334.0L80.6 328.7L80.7 328.0L80.8 332.9L81.0 330.3L81.1 328.6L81.3 327.2L81.4 332.5L81.5 326.8L81.7 332.0L81.8 331.4L82.0 329.1L82.1 331.5L82.2 332.1L82.4 325.6L82.5 334.0L82.7 328.8L82.8 328.1L82.9 335.1L83.1 332.7L83.2 331.4L83.4 330.6L83.5 326.4L83.6 333.2L83.8 335.6L83.9 333.7L84.1 326.8L84.2 330.6L84.3 330.8L84.5 331.0L84.6 334.1L84.8 333.6L84.9 334.5L85.0 335.0L85.2 326.9L85.3 331.7L85.5 327.5L85.6 333.3L85.7 330.2L85.9 335.6L86.0 334.4L86.2 337.0L86.3 326.1L86.4 333.1L86.6 325.9L86.7 330.5L86.9 327.4L87.0 333.0L87.1 325.6L87.3 332.2L87.4 336.0L87.6 332.5L87.7 335.3L87.8 334.9L88.0 325.7L88.1 333.7L88.3 332.8L88.4 333.7L88.5 326.7L88.7 336.3L88.8 331.7L89.0 336.3L89.1 326.9L89.2 329.4L89.4 327.0L89.5 331.8L89.7 328.9L89.8 328.0L89.9 332.9L90.1 326.2L90.2 331.0L90.4 326.8L90.5 333.0L90.6 332.1L90.8 327.4L90.9 333.8L91.1 329.1L91.2 333.2L91.3 327.4L91.5 336.5L91.6 326.7L91.8 328.2L91.9 330.4L92.0 328.6L92.2 327.1L92.3 330.7L92.5 333.2L92.6 332.8L92.7 333.3L92.9 326.2L93.0 326.9L93.2 326.1L93.3 336.2L93.4 327.2L93.6 328.9L93.7 334.0L93.9 333.4L94.0 327.4L94.1 327.0L94.3 328.5L94.4 335.2L94.6 326.5L94.7 329.8L94.8 332.8L95.0 331.8L95.1 332.4L95.3 340.0L95.4 340.0L95.5 327.4L95.7 332.7L95.8 328.8L96.0 331.3L96.1 332.4L96.2 332.1L96.4 330.0L96.5 334.5L96.7 333.0L96.8 327.3L96.9 328.8L97.1 330.1L97.2 327.2L97.4 328.0L97.5 328.8L97.6 326.8L97.8 330.4L97.9 328.1L98.1 333.1L98.2 329.0L98.3 328.0L98.5 335.1L98.6 335.6L98.8 333.6L98.9 335.8L99.0 326.6L99.2 330.4L99.3 335.3L99.5 328.1L99.6 336.5L99.7 330.8L99.9 330.5L100.0 333.5L100.2 337.8L100.3 326.8L100.4 329.8L100.6 327.3L100.7 337.2L100.9 326.1L101.0 335.2L101.1 328.7L101.3 331.1L101.4 336.4L101.6 329.0L101.7 326.5L101.8 328.9L102.0 330.1L102.1 335.2L102.3 334.6L102.4 331.4L102.5 329.1L102.7 337.4L102.8 336.9L103.0 337.9L103.1 340.1L103.2 333.6L103.4 336.3L103.5 339.3L103.7 332.4L103.8 334.2L103.9 337.0L104.1 326.5L104.2 332.3L104.4 339.1L104.5 328.2L104.6 329.2L104.8 337.5L104.9 336.0L105.1 333.3L105.2 330.6L105.3 333.7L105.5 335.1L105.6 338.3L105.8 337.1L105.9 330.2L106.0 333.7L106.2 328.3L106.3 327.8L106.5 337.0L106.6 333.1L106.7 328.1L106.9 328.3L107.0 333.1L107.2 336.9L107.3 335.4L107.4 327.6L107.6 331.4L107.7 330.6L107.9 335.8L108.0 328.9L108.1 334.1L108.3 337.9L108.4 334.3L108.6 329.4L108.7 337.6L108.8 338.5L109.0 331.7L109.1 327.0L109.3 326.6L109.4 335.3L109.5 330.5L109.7 339.4L109.8 339.7L110.0 339.8L110.1 327.0L110.2 335.9L110.4 333.8L110.5 327.4L110.7 328.5L110.8 327.5L110.9 334.2L111.1 327.6L111.2 337.3L111.4 330.6L111.5 333.5L111.6 337.5L111.8 332.1L111.9 328.2L112.1 328.5L112.2 330.5L112.3 329.6L112.5 338.7L112.6 327.9L112.8 332.9L112.9 338.6L113.0 334.0L113.2 338.2L113.3 334.8L113.5 336.1L113.6 327.2L113.7 339.5L113.9 339.2L114.0 328.7L114.2 328.9L114.3 327.1L114.4 335.1L114.6 329.5L114.7 327.0L114.9 339.4L115.0 327.7L115.1 333.9L115.3 334.5L115.4 334.4L115.6 330.7L115.7 329.8L115.8 327.4L116.0 336.7L116.1 338.9L116.3 327.4L116.4 327.4L116.5 329.2L116.7 339.7L116.8 328.3L117.0 330.8L117.1 338.4L117.2 338.0L117.4 328.1L117.5 334.1L117.7 330.4L117.8 335.7L117.9 334.6L118.1 335.5L118.2 329.0L118.4 328.6L118.5 336.4L118.6 329.0L118.8 334.7L118.9 336.3L119.1 335.7L119.2 329.9L119.3 333.7L119.5 335.4L119.6 332.0L119.8 328.1L119.9 338.8L120.0 332.8L120.2 330.4L120.3 338.8L120.5 330.1L120.6 338.5L120.7 329.0L120.9 332.5L121.0 338.1L121.2 339.4L121.3 337.2L121.4 339.1L121.6 337.6L121.7 339.4L121.9 337.1L122.0 333.6L122.1 339.1L122.3 328.8L122.4 328.4L122.6 329.6L122.7 329.1L122.8 330.0L123.0 338.6L123.1 329.1L123.3 329.2L123.4 332.0L123.5 330.4L123.7 331.2L123.8 334.6L124.0 329.3L124.1 330.1L124.2 334.8L124.4 331.2L124.5 339.1L124.7 336.4L124.8 338.6L124.9 329.0L125.1 338.4L125.2 335.2L125.4 332.2L125.5 329.1L125.6 335.7L125.8 328.9L125.9 331.1L126.1 330.3L126.2 331.9L126.3 332.4L126.5 329.3L126.6 333.2L126.8 329.1L126.9 331.7L127.0 328.8L127.2 339.2L127.3 333.3L127.5 332.5L127.6 340.5L127.7 339.4L127.9 328.6L128.0 334.9L128.2 336.1L128.3 331.4L128.4 340.7L128.6 327.9L128.7 332.1L128.9 337.2L129.0 340.6L129.1 330.0L129.3 339.4L129.4 328.5L129.6 330.7L129.7 331.8L129.8 337.0L130.0 335.9L130.1 329.7L130.3 330.4L130.4 331.3L130.5 334.9L130.7 331.4L130.8 334.0L131.0 332.3L131.1 332.5L131.2 332.3L131.4 329.4L131.5 331.1L131.7 335.3L131.8 331.8L131.9 336.0L132.1 329.6L132.2 331.7L132.4 332.4L132.5 329.9L132.6 337.6L132.8 330.4L132.9 339.9L133.1 329.4L133.2 341.3L133.3 339.6L133.5 334.7L133.6 333.2L133.8 341.9L133.9 330.1L134.0 343.6L134.2 329.0L134.3 338.6L134.5 333.7L134.6 328.2L134.7 338.5L134.9 341.4L135.0 341.3L135.2 331.3L135.3 331.6L135.4 332.2L135.6 332.7L135.7 332.9L135.9 335.9L136.0 336.9L136.1 330.7L136.3 338.5L136.4 329.2L136.6 338.7L136.7 336.5L136.8 338.9L137.0 330.0L137.1 329.9L137.3 335.8L137.4 333.2L137.5 338.0L137.7 338.4L137.8 333.4L138.0 338.5L138.1 338.6L138.2 338.4L138.4 336.5L138.5 337.4L138.7 329.8L138.8 337.6L138.9 331.2L139.1 336.7L139.2 339.5L139.4 337.0L139.5 330.0L139.6 333.8L139.8 329.7L139.9 333.2L140.1 339.7L140.2 329.1L140.3 330.6L140.5 340.2L140.6 338.3L140.8 330.9L140.9 335.4L141.0 339.4L141.2 331.4L141.3 330.3L141.5 336.1L141.6 336.5L141.7 338.8L141.9 341.0L142.0 334.6L142.2 330.3L142.3 333.5L142.4 329.4L142.6 333.2L142.7 329.2L142.9 334.2L143.0 331.8L143.1 333.9L143.3 329.6L143.4 337.9L143.6 340.7L143.7 342.1L143.8 331.1L144.0 330.7L144.1 329.9L144.3 332.3L144.4 331.1L144.5 337.1L144.7 339.2L144.8 329.9L145.0 340.7L145.1 339.2L145.2 339.7L145.4 333.2L145.5 330.0L145.7 339.7L145.8 342.2L145.9 329.1L146.1 329.8L146.2 333.0L146.4 331.1L146.5 339.8L146.6 338.8L146.8 331.4L146.9 340.4L147.1 335.2L147.2 330.9L147.3 338.4L147.5 335.0L147.6 330.2L147.8 332.4L147.9 342.4L148.0 340.0L148.2 332.9L148.3 339.4L148.5 340.7L148.6 342.4L148.7 340.6L148.9 336.7L149.0 342.6L149.2 337.0L149.3 341.9L149.4 332.8L149.6 335.0L149.7 333.7L149.9 344.1L150.0 328.8L150.1 345.5L150.3 329.8L150.4 329.0L150.6 333.3L150.7 330.6L150.8 329.2L151.0 330.5L151.1 341.8L151.3 331.9L151.4 329.6L151.5 339.7L151.7 338.6L151.8 330.6L152.0 337.4L152.1 333.4L152.2 337.6L152.4 331.3L152.5 341.2L152.7 337.8L152.8 332.3L152.9 340.6L153.1 332.6L153.2 338.4L153.4 339.5L153.5 332.7L153.6 332.3L153.8 340.3L153.9 330.2L154.1 339.8L154.2 334.6L154.3 340.3L154.5 330.4L154.6 332.1L154.8 330.2L154.9 331.6L155.0 334.5L155.2 338.3L155.3 338.6L155.5 342.0L155.6 330.8L155.7 331.7L155.9 332.4L156.0 338.1L156.2 331.9L156.3 336.8L156.4 334.8L156.6 339.4L156.7 333.2L156.9 333.2L157.0 339.3L157.1 336.8L157.3 337.0L157.4 340.6L157.6 334.4L157.7 334.2L157.8 334.4L158.0 340.3L158.1 339.9L158.3 333.0L158.4 333.7L158.5 335.4L158.7 343.7L158.8 344.3L159.0 334.7L159.1 338.5L159.2 341.3L159.4 343.4L159.5 332.0L159.7 329.8L159.8 331.7L159.9 342.8L160.1 331.3L160.2 337.1L160.4 333.0L160.5 341.8L160.6 330.6L160.8 333.5L160.9 332.4L161.1 335.5L161.2 342.3L161.3 339.6L161.5 341.0L161.6 330.7L161.8 340.8L161.9 332.3L162.0 345.0L162.2 342.5L162.3 334.2L162.5 341.6L162.6 338.9L162.7 329.5L162.9 344.2L163.0 343.0L163.2 335.5L163.3 330.2L163.4 332.2L163.6 342.4L163.7 339.4L163.9 335.8L164.0 334.7L164.1 332.1L164.3 331.5L164.4 331.7L164.6 341.8L164.7 334.5L164.8 340.6L165.0 341.1L165.1 337.0L165.3 334.8L165.4 339.9L165.5 332.9L165.7 333.1L165.8 336.5L166.0 331.0L166.1 335.9L166.2 338.4L166.4 333.8L166.5 337.8L166.7 342.1L166.8 337.4L166.9 337.8L167.1 340.5L167.2 344.3L167.4 340.6L167.5 340.2L167.6 343.1L167.8 337.8L167.9 342.6L168.1 343.3L168.2 336.7L168.3 340.5L168.5 330.9L168.6 332.7L168.8 335.9L168.9 337.0L169.0 340.7L169.2 340.3L169.3 340.4L169.5 331.6L169.6 329.5L169.7 333.2L169.9 329.5L170.0 329.5L170.2 342.9L170.3 331.0L170.4 337.0L170.6 328.9L170.7 329.1L170.9 329.9L171.0 330.1L171.1 338.5L171.3 328.6L171.4 332.6L171.6 331.1L171.7 337.0L171.8 329.7L172.0 339.8L172.1 336.9L172.3 337.4L172.4 338.0L172.5 335.1L172.7 334.0L172.8 336.2L173.0 331.6L173.1 328.9L173.2 333.5L173.4 330.1L173.5 332.5L173.7 335.9L173.8 334.8L173.9 328.0L174.1 328.7L174.2 335.7L174.4 335.6L174.5 330.8L174.6 337.7L174.8 329.8L174.9 328.1L175.1 336.8L175.2 337.8L175.3 332.2L175.5 335.0L175.6 337.8L175.8 326.0L175.9 329.1L176.0 334.8L176.2 333.3L176.3 334.4L176.5 335.2L176.6 328.0L176.7 332.1L176.9 329.6L177.0 326.0L177.2 329.4L177.3 328.4L177.4 330.7L177.6 330.9L177.7 330.1L177.9 325.3L178.0 328.7L178.1 329.7L178.3 329.1L178.4 330.3L178.6 330.4L178.7 324.7L178.8 323.5L179.0 329.7L179.1 328.1L179.3 329.1L179.4 327.9L179.5 327.1L179.7 322.4L179.8 328.1L180.0 330.5L180.1 327.0L180.2 324.4L180.4 322.9L180.5 322.9L180.7 328.4L180.8 323.2L180.9 320.4L181.1 324.8L181.2 324.3L181.4 323.6L181.5 320.6L181.6 321.1L181.8 321.0L181.9 320.7L182.1 318.8L182.2 319.0L182.3 324.8L182.5 318.9L182.6 322.7L182.8 317.5L182.9 322.4L183.0 318.2L183.2 322.9L183.3 322.4L183.5 321.9L183.6 315.3L183.7 315.5L183.9 319.7L184.0 318.1L184.2 315.5L184.3 319.2L184.4 313.3L184.6 315.3L184.7 313.9L184.9 316.9L185.0 316.6L185.1 314.1L185.3 311.9L185.4 312.9L185.6 311.2L185.7 308.8L185.8 311.9L186.0 308.2L186.1 310.0L186.3 309.2L186.4 307.8L186.5 305.5L186.7 304.0L186.8 305.5L187.0 303.3L187.1 301.7L187.2 298.0L187.4 297.8L187.5 295.8L187.7 293.6L187.8 291.3L187.9 288.0L188.1 284.8L188.2 281.8L188.4 276.9L188.5 270.7L188.6 264.5L188.8 258.6L188.9 252.1L189.1 245.9L189.2 239.7L189.3 233.5L189.5 227.2L189.6 220.9L189.8 220.0L189.9 226.3L190.0 232.6L190.2 238.7L190.3 245.1L190.5 251.4L190.6 257.7L190.7 263.6L190.9 270.0L191.0 276.8L191.2 281.3L191.3 284.4L191.4 287.7L191.6 290.9L191.7 293.1L191.9 295.9L192.0 295.9L192.1 298.7L192.3 301.1L192.4 301.8L192.6 303.1L192.7 304.1L192.8 305.2L193.0 307.7L193.1 306.4L193.3 309.1L193.4 311.9L193.5 312.4L193.7 314.5L193.8 311.7L194.0 313.6L194.1 312.9L194.2 317.9L194.4 313.4L194.5 314.8L194.7 319.3L194.8 320.9L194.9 319.6L195.1 317.4L195.2 322.9L195.4 319.7L195.5 322.7L195.6 325.0L195.8 319.8L195.9 319.3L196.1 320.8L196.2 327.1L196.3 325.9L196.5 321.9L196.6 322.0L196.8 321.3L196.9 326.9L197.0 323.3L197.2 330.3L197.3 323.1L197.5 330.4L197.6 329.0L197.7 323.6L197.9 326.6L198.0 331.7L198.2 332.5L198.3 326.4L198.4 332.2L198.6 333.0L198.7 328.3L198.9 329.1L199.0 333.2L199.1 330.3L199.3 336.5L199.4 330.5L199.6 336.3L199.7 327.5L199.8 336.7L200.0 338.9L200.1 339.0L200.3 339.1L200.4 339.9L200.5 329.8L200.7 340.6L200.8 338.1L201.0 338.1L201.1 337.5L201.2 339.0L201.4 333.7L201.5 329.5L201.7 339.0L201.8 340.1L201.9 330.1L202.1 340.9L202.2 340.6L202.4 342.4L202.5 339.5L202.6 342.6L202.8 337.3L202.9 342.6L203.1 336.7L203.2 339.5L203.3 345.0L203.5 339.2L203.6 338.6L203.8 344.0L203.9 331.7L204.0 344.9L204.2 338.9L204.3 344.4L204.5 332.1L204.6 336.5L204.7 331.9L204.9 343.1L205.0 332.2L205.2 342.7L205.3 340.8L205.4 335.0L205.6 337.3L205.7 337.6L205.9 337.5L206.0 332.5L206.1 340.7L206.3 333.2L206.4 339.7L206.6 334.3L206.7 342.9L206.8 339.3L207.0 335.6L207.1 336.3L207.3 340.0L207.4 337.9L207.5 334.4L207.7 341.7L207.8 342.7L208.0 345.5L208.1 343.9L208.2 345.2L208.4 342.7L208.5 342.1L208.7 333.7L208.8 334.7L208.9 342.0L209.1 348.5L209.2 339.5L209.4 345.2L209.5 333.9L209.6 347.8L209.8 337.0L209.9 351.1L210.1 343.6L210.2 334.1L210.3 332.9L210.5 337.1L210.6 341.3L210.8 334.7L210.9 344.3L211.0 334.7L211.2 341.5L211.3 342.3L211.5 343.4L211.6 346.1L211.7 344.8L211.9 345.6L212.0 341.3L212.2 340.7L212.3 340.6L212.4 341.4L212.6 337.3L212.7 337.0L212.9 344.8L213.0 348.3L213.1 349.0L213.3 345.1L213.4 336.0L213.6 334.9L213.7 346.9L213.8 348.3L214.0 344.8L214.1 339.7L214.3 336.7L214.4 335.6L214.5 334.9L214.7 346.2L214.8 343.7L215.0 339.1L215.1 348.9L215.2 335.0L215.4 338.0L215.5 337.2L215.7 346.6L215.8 346.2L215.9 347.3L216.1 340.7L216.2 345.7L216.4 338.5L216.5 335.0L216.6 339.0L216.8 341.4L216.9 337.7L217.1 346.7L217.2 346.2L217.3 336.4L217.5 340.2L217.6 350.8L217.8 341.0L217.9 347.4L218.0 350.3L218.2 344.5L218.3 349.3L218.5 338.9L218.6 335.7L218.7 335.8L218.9 332.8L219.0 338.9L219.2 334.6L219.3 335.0L219.4 328.6L219.6 332.4L219.7 330.0L219.9 326.4L220.0 323.6L220.1 322.4L220.3 321.2L220.4 323.7L220.6 323.0L220.7 318.5L220.8 316.0L221.0 319.2L221.1 318.7L221.3 318.2L221.4 314.7L221.5 316.3L221.7 317.7L221.8 317.0L222.0 317.2L222.1 314.6L222.2 317.8L222.4 317.1L222.5 312.5L222.7 316.7L222.8 312.4L222.9 316.8L223.1 313.3L223.2 316.4L223.4 317.1L223.5 315.7L223.6 312.1L223.8 316.4L223.9 314.9L224.1 314.6L224.2 312.7L224.3 316.6L224.5 315.6L224.6 316.4L224.8 312.0L224.9 316.4L225.0 313.0L225.2 316.3L225.3 312.1L225.5 312.0L225.6 313.8L225.7 315.8L225.9 312.1L226.0 313.9L226.2 315.4L226.3 312.9L226.4 313.4L226.6 314.3L226.7 312.5L226.9 315.0L227.0 312.9L227.1 313.5L227.3 315.4L227.4 313.2L227.6 317.5L227.7 318.5L227.8 318.2L228.0 314.8L228.1 318.8L228.3 316.6L228.4 317.7L228.5 318.5L228.7 324.0L228.8 327.7L229.0 325.1L229.1 327.6L229.2 336.0L229.4 336.5L229.5 333.2L229.7 333.5L229.8 341.6L229.9 342.3L230.1 336.7L230.2 336.6L230.4 335.8L230.5 339.4L230.6 345.1L230.8 335.3L230.9 346.1L231.1 351.2L231.2 353.2L231.3 337.1L231.5 336.6L231.6 336.3L231.8 347.6L231.9 353.0L232.0 338.8L232.2 352.5L232.3 338.3L232.5 335.7L232.6 348.1L232.7 350.6L232.9 339.7L233.0 352.6L233.2 348.7L233.3 349.2L233.4 345.5L233.6 339.2L233.7 339.8L233.9 349.4L234.0 351.0L234.1 346.4L234.3 349.6L234.4 349.1L234.6 352.8L234.7 335.7L234.8 336.9L235.0 338.7L235.1 337.8L235.3 339.6L235.4 336.7L235.5 341.3L235.7 335.9L235.8 341.5L236.0 349.0L236.1 335.2L236.2 350.2L236.4 346.5L236.5 337.3L236.7 335.2L236.8 334.8L236.9 349.0L237.1 351.7L237.2 336.1L237.4 351.1L237.5 336.3L237.6 335.6L237.8 349.4L237.9 338.5L238.1 347.6L238.2 346.8L238.3 341.9L238.5 342.3L238.6 339.7L238.8 347.3L238.9 337.3L239.0 357.1L239.2 357.1L239.3 335.7L239.5 351.6L239.6 336.1L239.7 334.0L239.9 352.9L240.0 334.6L240.2 346.6L240.3 337.2L240.4 337.5L240.6 338.4L240.7 337.8L240.9 352.1L241.0 345.1L241.1 335.9L241.3 350.8L241.4 348.2L241.6 339.2L241.7 353.2L241.8 350.2L242.0 348.8L242.1 350.1L242.3 339.5L242.4 335.3L242.5 350.9L242.7 335.3L242.8 355.5L243.0 355.5L243.1 337.3L243.2 336.5L243.4 345.3L243.5 350.8L243.7 343.1L243.8 335.4L243.9 348.1L244.1 336.7L244.2 356.3L244.4 356.3L244.5 341.7L244.6 339.6L244.8 339.9L244.9 341.1L245.1 336.3L245.2 341.7L245.3 346.4L245.5 337.4L245.6 348.1L245.8 338.8L245.9 353.5L246.0 347.7L246.2 353.9L246.3 336.2L246.5 348.6L246.6 338.4L246.7 352.7L246.9 340.0L247.0 335.9L247.2 347.0L247.3 347.0L247.4 343.6L247.6 338.0L247.7 337.6L247.9 337.3L248.0 349.0L248.1 335.7L248.3 341.6L248.4 350.4L248.6 337.9L248.7 340.8L248.8 351.3L249.0 354.0L249.1 335.1L249.3 336.6L249.4 344.3L249.5 339.0L249.7 342.6L249.8 344.3L250.0 336.3L250.1 349.1L250.2 336.5L250.4 336.2L250.5 338.9L250.7 347.2L250.8 348.2L250.9 342.2L251.1 348.6L251.2 349.8L251.4 340.9L251.5 340.9L251.6 352.6L251.8 336.1L251.9 339.1L252.1 356.7L252.2 356.7L252.3 335.8L252.5 348.2L252.6 338.9L252.8 338.0L252.9 340.3L253.0 333.9L253.2 359.9L253.3 359.9L253.5 335.2L253.6 354.2L253.7 343.7L253.9 335.9L254.0 340.7L254.2 337.2L254.3 339.6L254.4 336.5L254.6 342.9L254.7 339.0L254.9 337.9L255.0 346.7L255.1 344.2L255.3 355.7L255.4 350.7L255.6 336.9L255.7 341.1L255.8 333.8L256.0 355.0L256.1 353.3L256.3 345.2L256.4 337.8L256.5 346.3L256.7 348.8L256.8 338.2L257.0 344.6L257.1 348.9L257.2 340.1L257.4 347.1L257.5 339.8L257.7 336.3L257.8 339.2L257.9 346.2L258.1 347.5L258.2 335.7L258.4 341.9L258.5 347.3L258.6 340.5L258.8 348.6L258.9 342.9L259.1 337.1L259.2 336.5L259.3 338.4L259.5 354.9L259.6 334.7L259.8 344.0L259.9 341.2L260.0 345.1L260.2 345.9L260.3 349.5L260.5 350.4L260.6 346.3L260.7 338.5L260.9 347.6L261.0 349.9L261.2 349.1L261.3 336.9L261.4 350.9L261.6 338.5L261.7 346.2L261.9 344.3L262.0 344.9L262.1 340.9L262.3 353.1L262.4 334.2L262.6 338.7L262.7 338.4L262.8 342.6L263.0 334.5L263.1 337.5L263.3 350.0L263.4 339.0L263.5 347.3L263.7 342.7L263.8 342.6L264.0 336.2L264.1 334.6L264.2 346.8L264.4 344.9L264.5 335.2L264.7 350.8L264.8 351.0L264.9 345.8L265.1 353.4L265.2 337.4L265.4 335.7L265.5 339.0L265.6 352.6L265.8 338.2L265.9 347.0L266.1 354.4L266.2 345.7L266.3 338.6L266.5 337.7L266.6 338.3L266.8 353.3L266.9 345.9L267.0 337.0L267.2 350.0L267.3 336.7L267.5 338.0L267.6 349.3L267.7 338.1L267.9 342.1L268.0 346.9L268.2 337.6L268.3 353.2L268.4 348.3L268.6 342.2L268.7 339.0L268.9 354.1L269.0 341.8L269.1 338.2L269.3 342.2L269.4 350.5L269.6 352.5L269.7 335.9L269.8 353.3L270.0 352.2L270.1 347.3L270.3 352.9L270.4 340.6L270.5 341.0L270.7 346.9L270.8 352.9L271.0 339.3L271.1 336.5L271.2 351.1L271.4 346.3L271.5 339.5L271.7 349.2L271.8 335.2L271.9 342.7L272.1 339.1L272.2 353.6L272.4 350.8L272.5 334.6L272.6 352.8L272.8 335.5L272.9 348.2L273.1 335.3L273.2 346.8L273.3 336.6L273.5 338.9L273.6 335.5L273.8 345.7L273.9 338.9L274.0 340.8L274.2 340.0L274.3 335.6L274.5 348.7L274.6 349.3L274.7 345.6L274.9 348.7L275.0 346.5L275.2 338.0L275.3 337.2L275.4 347.2L275.6 345.7L275.7 336.5L275.9 336.1L276.0 339.7L276.1 342.8L276.3 332.4L276.4 336.6L276.6 337.8L276.7 340.8L276.8 329.3L277.0 328.6L277.1 329.4L277.3 327.3L277.4 329.9L277.5 331.4L277.7 324.8L277.8 329.9L278.0 334.2L278.1 334.2L278.2 325.2L278.4 331.4L278.5 331.6L278.7 324.9L278.8 330.4L278.9 325.5L279.1 329.1L279.2 329.2L279.4 323.3L279.5 323.2L279.6 325.5L279.8 328.0L279.9 327.8L280.1 327.8L280.2 328.0L280.3 322.7L280.5 325.7L280.6 322.9L280.8 323.1L280.9 323.9L281.0 322.8L281.2 328.7L281.3 329.4L281.5 323.4L281.6 326.0L281.7 330.9L281.9 331.1L282.0 327.7L282.2 325.0L282.3 326.0L282.4 327.1L282.6 328.0L282.7 329.6L282.9 329.5L283.0 325.8L283.1 327.9L283.3 326.1L283.4 331.8L283.6 328.4L283.7 329.1L283.8 325.8L284.0 330.3L284.1 334.0L284.3 332.2L284.4 331.0L284.5 336.8L284.7 330.8L284.8 330.2L285.0 337.3L285.1 331.0L285.2 329.7L285.4 338.8L285.5 343.4L285.7 344.1L285.8 335.4L285.9 344.6L286.1 342.9L286.2 334.0L286.4 335.2L286.5 337.0L286.6 336.2L286.8 337.6L286.9 343.7L287.1 350.1L287.2 342.2L287.3 343.0L287.5 350.6L287.6 347.5L287.8 353.7L287.9 351.0L288.0 352.6L288.2 348.0L288.3 351.2L288.5 353.8L288.6 340.5L288.7 340.6L288.9 349.6L289.0 354.0L289.2 348.0L289.3 336.5L289.4 340.1L289.6 336.6L289.7 339.8L289.9 339.4L290.0 337.2L290.1 343.7L290.3 351.0L290.4 341.7L290.6 344.1L290.7 339.3L290.8 353.1L291.0 352.5L291.1 336.9L291.3 341.5L291.4 348.7L291.5 335.5L291.7 339.8L291.8 346.5L292.0 355.2L292.1 344.1L292.2 355.7L292.4 346.8L292.5 338.1L292.7 342.7L292.8 343.0L292.9 335.8L293.1 351.0L293.2 348.5L293.4 335.8L293.5 353.3L293.6 355.0L293.8 336.3L293.9 338.2L294.1 335.8L294.2 340.7L294.3 337.8L294.5 365.1L294.6 365.1L294.8 339.4L294.9 349.5L295.0 340.9L295.2 354.7L295.3 337.0L295.5 355.3L295.6 338.8L295.7 358.3L295.9 355.0L296.0 354.5L296.2 340.1L296.3 337.2L296.4 353.7L296.6 354.9L296.7 338.3L296.9 337.4L297.0 337.1L297.1 340.0L297.3 335.7L297.4 336.2L297.6 336.5L297.7 336.2L297.8 339.1L298.0 354.5L298.1 347.4L298.3 347.3L298.4 340.2L298.5 351.3L298.7 357.6L298.8 341.0L299.0 341.9L299.1 337.4L299.2 340.2L299.4 343.3L299.5 349.2L299.7 353.1L299.8 337.9L299.9 341.0L300.1 339.5L300.2 337.1L300.4 337.9L300.5 355.5L300.6 336.8L300.8 353.1L300.9 336.4L301.1 353.9L301.2 341.6L301.3 350.1L301.5 357.8L301.6 334.9L301.8 358.3L301.9 347.2L302.0 355.3L302.2 342.5L302.3 357.0L302.5 352.0L302.6 348.2L302.7 343.8L302.9 347.6L303.0 337.7L303.2 348.1L303.3 341.2L303.4 340.5L303.6 352.3L303.7 339.5L303.9 349.8L304.0 342.8L304.1 353.0L304.3 353.8L304.4 354.4L304.6 340.1L304.7 355.4L304.8 349.2L305.0 355.0L305.1 337.1L305.3 349.8L305.4 347.0L305.5 348.7L305.7 346.3L305.8 350.2L306.0 352.6L306.1 354.0L306.2 341.2L306.4 349.9L306.5 338.7L306.7 348.6L306.8 335.6L306.9 339.3L307.1 354.4L307.2 352.1L307.4 349.3L307.5 361.1L307.6 361.1L307.8 339.5L307.9 357.8L308.1 349.8L308.2 347.0L308.3 352.3L308.5 337.9L308.6 344.4L308.8 345.5L308.9 353.3L309.0 342.3L309.2 352.0L309.3 352.5L309.5 339.4L309.6 357.0L309.7 345.8L309.9 357.0L310.0 355.9L310.2 352.2L310.3 347.5L310.4 354.9L310.6 353.8L310.7 337.4L310.9 341.6L311.0 355.3L311.1 340.2L311.3 355.2L311.4 350.0L311.6 340.5L311.7 348.0L311.8 341.0L312.0 356.6L312.1 344.5L312.3 341.4L312.4 363.7L312.5 363.7L312.7 345.2L312.8 337.7L313.0 350.1L313.1 356.5L313.2 343.2L313.4 366.9L313.5 366.9L313.7 337.0L313.8 344.9L313.9 351.2L314.1 340.7L314.2 355.5L314.4 343.0L314.5 341.0L314.6 356.1L314.8 338.2L314.9 344.5L315.1 354.9L315.2 337.6L315.3 347.5L315.5 339.2L315.6 348.9L315.8 349.7L315.9 356.2L316.0 351.4L316.2 364.0L316.3 364.0L316.5 357.1L316.6 356.1L316.7 340.6L316.9 350.4L317.0 339.6L317.2 337.0L317.3 344.0L317.4 353.3L317.6 353.8L317.7 340.6L317.9 355.1L318.0 353.9L318.1 339.3L318.3 350.1L318.4 341.6L318.6 355.4L318.7 341.5L318.8 353.9L319.0 350.5L319.1 352.3L319.3 355.7L319.4 350.0L319.5 346.7L319.7 349.8L319.8 344.9L320.0 358.4L320.1 352.6L320.2 336.9L320.4 351.5L320.5 358.4L320.7 344.2L320.8 352.9L320.9 338.1L321.1 357.6L321.2 340.7L321.4 346.8L321.5 353.3L321.6 341.5L321.8 353.1L321.9 340.1L322.1 352.8L322.2 347.5L322.3 337.0L322.5 340.1L322.6 353.7L322.8 355.9L322.9 356.0L323.0 351.3L323.2 336.3L323.3 355.1L323.5 336.2L323.6 337.2L323.7 335.7L323.9 344.8L324.0 343.3L324.2 338.6L324.3 339.9L324.4 353.8L324.6 355.9L324.7 356.2L324.9 338.5L325.0 343.8L325.1 339.7L325.3 340.9L325.4 343.2L325.6 353.4L325.7 356.2L325.8 336.9L326.0 348.8L326.1 342.3L326.3 352.0L326.4 338.1L326.5 347.0L326.7 355.7L326.8 349.2L327.0 364.3L327.1 364.3L327.2 352.1L327.4 352.3L327.5 340.9L327.7 336.8L327.8 351.3L327.9 356.9L328.1 340.6L328.2 354.7L328.4 353.8L328.5 355.8L328.6 342.5L328.8 348.0L328.9 357.3L329.1 353.3L329.2 338.0L329.3 349.5L329.5 341.7L329.6 336.5L329.8 342.6L329.9 357.9L330.0 359.3L330.2 336.6L330.3 348.8L330.5 337.4L330.6 343.7L330.7 352.9L330.9 349.2L331.0 357.1L331.2 336.8L331.3 352.5L331.4 337.5L331.6 346.3L331.7 339.4L331.9 340.0L332.0 339.8L332.1 338.3L332.3 354.0L332.4 341.4L332.6 341.1L332.7 342.1L332.8 349.0L333.0 342.8L333.1 363.1L333.3 363.1L333.4 341.9L333.5 354.9L333.7 339.4L333.8 349.2L334.0 344.0L334.1 352.8L334.2 352.9L334.4 341.9L334.5 342.5L334.7 340.5L334.8 341.2L334.9 340.4L335.1 354.4L335.2 342.6L335.4 339.4L335.5 347.4L335.6 341.0L335.8 353.7L335.9 355.1L336.1 343.5L336.2 349.2L336.3 355.1L336.5 355.2L336.6 354.5L336.8 341.4L336.9 351.7L337.0 357.6L337.2 337.1L337.3 349.6L337.5 350.4L337.6 343.0L337.7 339.9L337.9 343.3L338.0 350.9L338.2 336.8L338.3 341.7L338.4 341.0L338.6 359.1L338.7 341.5L338.9 336.3L339.0 350.1L339.1 344.2L339.3 340.7L339.4 350.0L339.6 339.5L339.7 339.9L339.8 339.6L340.0 345.9L340.1 339.6L340.3 354.7L340.4 349.9L340.5 342.9L340.7 345.8L340.8 352.3L341.0 348.3L341.1 339.5L341.2 340.6L341.4 343.0L341.5 357.2L341.7 355.7L341.8 358.2L341.9 356.6L342.1 337.8L342.2 357.2L342.4 357.8L342.5 351.1L342.6 340.9L342.8 356.5L342.9 350.6L343.1 341.6L343.2 356.1L343.3 338.8L343.5 352.9L343.6 337.2L343.8 341.3L343.9 343.5L344.0 340.0L344.2 345.8L344.3 364.5L344.5 364.5L344.6 336.2L344.7 336.3L344.9 353.0L345.0 359.1L345.2 344.9L345.3 341.6L345.4 344.7L345.6 338.8L345.7 343.8L345.9 347.7L346.0 339.9L346.1 353.9L346.3 346.5L346.4 351.5L346.6 352.9L346.7 355.7L346.8 342.0L347.0 355.0L347.1 341.5L347.3 344.5L347.4 343.0L347.5 356.1L347.7 355.0L347.8 338.0L348.0 347.5L348.1 352.3L348.2 350.4L348.4 343.7L348.5 343.9L348.7 350.0L348.8 337.7L348.9 342.4L349.1 344.1L349.2 352.7L349.4 337.6L349.5 342.8L349.6 342.1L349.8 343.2L349.9 351.0L350.1 341.7L350.2 343.7L350.3 358.5L350.5 351.6L350.6 354.2L350.8 343.5L350.9 343.1L351.0 342.0L351.2 338.7L351.3 351.1L351.5 337.1L351.6 353.4L351.7 351.3L351.9 338.7L352.0 357.1L352.2 368.2L352.3 368.2L352.4 350.1L352.6 342.4L352.7 357.8L352.9 356.1L353.0 336.9L353.1 354.1L353.3 357.2L353.4 359.2L353.6 342.4L353.7 358.1L353.8 342.7L354.0 344.7L354.1 346.5L354.3 348.6L354.4 357.7L354.5 340.1L354.7 344.4L354.8 355.2L355.0 338.7L355.1 337.8L355.2 352.5L355.4 337.1L355.5 339.1L355.7 339.7L355.8 344.9L355.9 353.4L356.1 340.4L356.2 337.0L356.4 337.4L356.5 337.0L356.6 335.9L356.8 349.2L356.9 344.1L357.1 337.0L357.2 340.8L357.3 337.8L357.5 343.4L357.6 335.8L357.8 354.2L357.9 335.2L358.0 341.2L358.2 353.2L358.3 338.8L358.5 338.5L358.6 365.0L358.7 365.0L358.9 339.0L359.0 346.7L359.2 337.3L359.3 351.1L359.4 340.4L359.6 354.1L359.7 365.0L359.9 365.0L360.0 341.9L360.1 349.3L360.3 337.7L360.4 350.7L360.6 342.6L360.7 364.5L360.8 364.5L361.0 348.9L361.1 338.3L361.3 351.8L361.4 341.2L361.5 363.1L361.7 363.1L361.8 357.0L362.0 338.2L362.1 346.7L362.2 336.7L362.4 338.8L362.5 340.5L362.7 340.4L362.8 357.4L362.9 347.3L363.1 338.7L363.2 368.5L363.4 362.7L363.5 362.7L363.6 350.7L363.8 342.5L363.9 349.9L364.1 345.9L364.2 342.0L364.3 351.9L364.5 354.5L364.6 344.6L364.8 341.5L364.9 355.4L365.0 352.4L365.2 337.9L365.3 347.7L365.5 339.9L365.6 357.9L365.7 338.9L365.9 337.9L366.0 352.2L366.2 355.4L366.3 348.9L366.4 340.5L366.6 352.4L366.7 353.8L366.9 345.1L367.0 340.8L367.1 343.1L367.3 342.1L367.4 349.5L367.6 355.7L367.7 341.0L367.8 344.0L368.0 350.2L368.1 365.6L368.3 365.6L368.4 341.6L368.5 358.0L368.7 341.8L368.8 349.1L369.0 346.2L369.1 364.5L369.2 364.5L369.4 349.8L369.5 342.6L369.7 354.2L369.8 360.2L369.9 337.7L370.1 337.0L370.2 359.3L370.4 340.5L370.5 352.7L370.6 337.5L370.8 359.6L370.9 359.7L371.1 345.6L371.2 351.6L371.3 357.8L371.5 361.2L371.6 367.8L371.8 367.8L371.9 357.2L372.0 341.1L372.2 342.0L372.3 337.9L372.5 355.6L372.6 340.4L372.7 350.1L372.9 351.9L373.0 352.9L373.2 338.5L373.3 341.1L373.4 342.6L373.6 340.5L373.7 338.8L373.9 346.6L374.0 352.6L374.1 339.7L374.3 360.8L374.4 339.1L374.6 338.8L374.7 358.7L374.8 343.9L375.0 343.1L375.1 350.9L375.3 337.2L375.4 342.5L375.5 338.8L375.7 337.6L375.8 344.1L376.0 339.8L376.1 343.4L376.2 350.6L376.4 342.1L376.5 339.4L376.7 341.4L376.8 354.3L376.9 358.4L377.1 343.1L377.2 336.3L377.4 351.5L377.5 351.8L377.6 360.1L377.8 343.2L377.9 357.4L378.1 357.5L378.2 337.2L378.3 352.3L378.5 341.8L378.6 354.5L378.8 352.3L378.9 350.5L379.0 341.5L379.2 348.2L379.3 340.2L379.5 357.0L379.6 358.7L379.7 354.5L379.9 347.7L380.0 344.5L380.2 355.4L380.3 357.8L380.4 345.3L380.6 352.2L380.7 353.2L380.9 339.9L381.0 342.3L381.1 352.4L381.3 356.0L381.4 348.0L381.6 343.0L381.7 337.3L381.8 337.7L382.0 352.1L382.1 357.6L382.3 354.9L382.4 343.1L382.5 343.7L382.7 344.5L382.8 347.5L383.0 357.9L383.1 340.4L383.2 352.8L383.4 357.0L383.5 349.4L383.7 360.1L383.8 344.5L383.9 362.0L384.1 362.0L384.2 353.3L384.4 343.2L384.5 347.7L384.6 353.8L384.8 358.7L384.9 357.1L385.1 358.6L385.2 344.9L385.3 342.1L385.5 346.8L385.6 343.0L385.8 351.7L385.9 349.4L386.0 346.3L386.2 368.0L386.3 368.0L386.5 354.4L386.6 340.9L386.7 353.3L386.9 338.0L387.0 349.5L387.2 338.2L387.3 349.3L387.4 340.4L387.6 347.7L387.7 354.1L387.9 339.4L388.0 353.2L388.1 348.5L388.3 344.9L388.4 344.4L388.6 337.3L388.7 338.7L388.8 368.0L389.0 368.0L389.1 347.5L389.3 347.5L389.4 338.7L389.5 354.3L389.7 356.4L389.8 355.1L390.0 348.5L390.1 337.6L390.2 355.2L390.4 337.4L390.5 340.7L390.7 346.0L390.8 337.1L390.9 346.3L391.1 342.2L391.2 351.0L391.4 353.7L391.5 348.7L391.6 355.9L391.8 340.2L391.9 352.9L392.1 340.7L392.2 351.8L392.3 343.1L392.5 353.5L392.6 355.4L392.8 338.2L392.9 347.8L393.0 348.2L393.2 352.5L393.3 343.5L393.5 340.1L393.6 345.6L393.7 368.9L393.9 368.9L394.0 339.4L394.2 354.1L394.3 353.6L394.4 338.3L394.6 337.5L394.7 348.7L394.9 349.9L395.0 344.6L395.1 353.0L395.3 351.6L395.4 337.1L395.6 336.8L395.7 352.2L395.8 342.3L396.0 338.9L396.1 348.6L396.3 340.1L396.4 368.0L396.5 368.0L396.7 349.5L396.8 355.4L397.0 362.5L397.1 362.5L397.2 355.3L397.4 339.3L397.5 346.2L397.7 354.4L397.8 351.5L397.9 341.9L398.1 350.4L398.2 350.0L398.4 341.6L398.5 343.0L398.6 346.5L398.8 337.9L398.9 354.2L399.1 340.3L399.2 363.6L399.3 363.6L399.5 358.3L399.6 337.6L399.8 358.5L399.9 356.2L400.0 348.7L400.2 342.9L400.3 354.8L400.5 367.9L400.6 367.9L400.7 337.8L400.9 351.6L401.0 356.1L401.2 359.3L401.3 354.4L401.4 351.8L401.6 356.0L401.7 339.8L401.9 363.3L402.0 336.9L402.1 356.8L402.3 357.0L402.4 360.3L402.6 353.1L402.7 352.8L402.8 342.7L403.0 347.8L403.1 346.5L403.3 353.3L403.4 339.2L403.5 347.9L403.7 342.1L403.8 348.0L404.0 357.3L404.1 350.5L404.2 346.6L404.4 346.4L404.5 354.8L404.7 336.8L404.8 355.2L404.9 341.5L405.1 350.9L405.2 352.9L405.4 341.5L405.5 341.3L405.6 356.0L405.8 346.3L405.9 350.6L406.1 348.0L406.2 341.3L406.3 337.3L406.5 359.1L406.6 339.9L406.8 355.4L406.9 353.7L407.0 350.2L407.2 357.5L407.3 341.2L407.5 348.8L407.6 338.8L407.7 340.1L407.9 341.7L408.0 341.6L408.2 345.6L408.3 355.2L408.4 353.1L408.6 360.2L408.7 344.8L408.9 362.4L409.0 360.4L409.1 342.2L409.3 354.5L409.4 341.5L409.6 346.1L409.7 360.1L409.8 350.6L410.0 359.4L410.1 351.4L410.3 339.3L410.4 348.3L410.5 356.6L410.7 359.5L410.8 349.2L411.0 341.5L411.1 352.3L411.2 344.1L411.4 359.0L411.5 341.2L411.7 353.3L411.8 356.9L411.9 343.4L412.1 344.3L412.2 355.4L412.4 348.7L412.5 338.3L412.6 341.3L412.8 346.4L412.9 355.9L413.1 350.9L413.2 357.0L413.3 342.1L413.5 358.6L413.6 336.0L413.8 343.1L413.9 355.7L414.0 350.4L414.2 336.7L414.3 351.7L414.5 357.1L414.6 343.2L414.7 337.4L414.9 343.5L415.0 338.5L415.2 351.6L415.3 347.8L415.4 348.0L415.6 356.1L415.7 356.1L415.9 355.0L416.0 346.9L416.1 359.9L416.3 341.3L416.4 348.1L416.6 360.2L416.7 338.3L416.8 337.1L417.0 351.8L417.1 349.5L417.3 350.1L417.4 361.4L417.5 339.7L417.7 347.6L417.8 351.2L418.0 345.4L418.1 339.7L418.2 354.0" stroke="#067f06" stroke-width="2.7" fill="none" stroke-linejoin="round" stroke-linecap="round"/>
<path d="M59.0 162.2L59.1 161.0L59.3 157.3L59.4 158.2L59.6 160.7L59.7 163.3L59.8 162.6L60.0 162.0L60.1 157.8L60.3 161.2L60.4 157.8L60.5 156.9L60.7 162.5L60.8 161.8L61.0 163.6L61.1 162.5L61.2 158.0L61.4 156.6L61.5 159.4L61.7 158.6L61.8 160.6L61.9 158.9L62.1 156.6L62.2 156.7L62.4 158.8L62.5 161.7L62.6 157.4L62.8 157.5L62.9 157.9L63.1 163.0L63.2 163.0L63.3 160.2L63.5 156.9L63.6 164.5L63.8 163.7L63.9 158.5L64.0 156.5L64.2 160.3L64.3 157.6L64.5 159.1L64.6 159.3L64.7 158.6L64.9 165.6L65.0 159.2L65.2 157.1L65.3 161.9L65.4 165.5L65.6 158.1L65.7 160.9L65.9 159.2L66.0 163.0L66.1 158.8L66.3 158.5L66.4 164.8L66.6 164.0L66.7 163.2L66.8 162.6L67.0 164.9L67.1 157.2L67.3 160.0L67.4 162.6L67.5 157.7L67.7 165.9L67.8 163.3L68.0 164.2L68.1 165.9L68.2 162.1L68.4 164.8L68.5 159.5L68.7 165.4L68.8 161.2L68.9 163.5L69.1 158.9L69.2 160.6L69.4 161.8L69.5 161.3L69.6 164.9L69.8 160.4L69.9 165.2L70.1 157.7L70.2 158.5L70.3 158.2L70.5 158.0L70.6 162.7L70.8 157.6L70.9 163.7L71.0 165.8L71.2 165.9L71.3 157.4L71.5 158.8L71.6 160.4L71.7 157.2L71.9 163.8L72.0 160.6L72.2 160.3L72.3 158.4L72.4 157.9L72.6 164.7L72.7 162.6L72.9 159.7L73.0 165.1L73.1 158.0L73.3 160.2L73.4 157.7L73.6 164.7L73.7 165.4L73.8 159.3L74.0 165.0L74.1 166.2L74.3 159.0L74.4 166.1L74.5 159.8L74.7 163.9L74.8 162.1L75.0 160.1L75.1 162.5L75.2 157.9L75.4 161.7L75.5 161.6L75.7 163.1L75.8 164.6L75.9 165.8L76.1 165.5L76.2 166.6L76.4 160.1L76.5 157.8L76.6 164.4L76.8 157.4L76.9 167.9L77.1 161.4L77.2 159.1L77.3 157.4L77.5 166.3L77.6 166.0L77.8 158.5L77.9 164.7L78.0 158.3L78.2 164.3L78.3 162.5L78.5 163.8L78.6 158.7L78.7 165.0L78.9 164.9L79.0 165.5L79.2 160.8L79.3 159.5L79.4 162.9L79.6 164.5L79.7 165.1L79.9 161.3L80.0 163.5L80.1 163.8L80.3 163.2L80.4 164.4L80.6 160.2L80.7 159.7L80.8 160.2L81.0 164.8L81.1 165.8L81.3 160.4L81.4 163.7L81.5 163.1L81.7 165.6L81.8 158.5L82.0 163.7L82.1 165.6L82.2 166.0L82.4 161.2L82.5 162.0L82.7 165.7L82.8 166.5L82.9 159.7L83.1 166.7L83.2 158.7L83.4 158.4L83.5 158.1L83.6 158.5L83.8 158.7L83.9 159.7L84.1 160.2L84.2 167.5L84.3 166.3L84.5 158.7L84.6 159.5L84.8 165.3L84.9 164.1L85.0 161.7L85.2 161.5L85.3 165.4L85.5 162.4L85.6 165.0L85.7 158.5L85.9 159.3L86.0 160.0L86.2 163.5L86.3 163.5L86.4 165.3L86.6 165.5L86.7 165.3L86.9 161.0L87.0 159.2L87.1 165.9L87.3 166.5L87.4 158.9L87.6 158.6L87.7 159.6L87.8 161.1L88.0 165.3L88.1 162.2L88.3 164.7L88.4 165.5L88.5 160.0L88.7 160.8L88.8 167.7L89.0 163.7L89.1 162.8L89.2 164.0L89.4 164.0L89.5 166.2L89.7 168.2L89.8 165.5L89.9 165.6L90.1 164.8L90.2 160.0L90.4 167.4L90.5 159.7L90.6 160.2L90.8 161.0L90.9 163.8L91.1 167.8L91.2 161.3L91.3 165.0L91.5 162.2L91.6 162.4L91.8 168.5L91.9 165.5L92.0 159.0L92.2 166.7L92.3 163.3L92.5 167.1L92.6 159.9L92.7 167.5L92.9 165.2L93.0 165.1L93.2 163.3L93.3 167.9L93.4 167.2L93.6 163.9L93.7 161.8L93.9 162.0L94.0 163.0L94.1 160.1L94.3 160.6L94.4 166.0L94.6 167.2L94.7 168.3L94.8 160.1L95.0 161.4L95.1 160.4L95.3 165.2L95.4 161.4L95.5 161.5L95.7 159.7L95.8 166.4L96.0 167.3L96.1 160.4L96.2 163.5L96.4 166.3L96.5 167.7L96.7 161.9L96.8 159.7L96.9 167.0L97.1 166.3L97.2 162.4L97.4 168.3L97.5 166.4L97.6 164.9L97.8 165.3L97.9 159.8L98.1 169.0L98.2 169.1L98.3 160.5L98.5 167.1L98.6 165.2L98.8 162.5L98.9 165.6L99.0 160.0L99.2 162.0L99.3 161.9L99.5 166.9L99.6 164.8L99.7 159.4L99.9 161.7L100.0 162.5L100.2 162.3L100.3 167.7L100.4 168.5L100.6 169.8L100.7 169.9L100.9 163.8L101.0 165.5L101.1 166.0L101.3 164.4L101.4 159.4L101.6 160.0L101.7 169.2L101.8 168.6L102.0 161.7L102.1 160.8L102.3 165.6L102.4 168.6L102.5 160.2L102.7 166.4L102.8 161.4L103.0 161.8L103.1 163.4L103.2 161.0L103.4 167.2L103.5 160.8L103.7 164.3L103.8 166.4L103.9 168.1L104.1 165.5L104.2 160.3L104.4 169.0L104.5 169.6L104.6 159.9L104.8 169.3L104.9 166.5L105.1 166.2L105.2 162.9L105.3 161.0L105.5 166.4L105.6 169.0L105.8 160.3L105.9 165.5L106.0 166.5L106.2 169.7L106.3 160.1L106.5 162.9L106.6 160.9L106.7 162.4L106.9 169.2L107.0 161.2L107.2 162.9L107.3 169.5L107.4 168.7L107.6 170.2L107.7 160.9L107.9 160.5L108.0 161.7L108.1 164.7L108.3 167.4L108.4 161.0L108.6 166.9L108.7 161.8L108.8 169.5L109.0 165.8L109.1 161.5L109.3 168.5L109.4 164.8L109.5 168.1L109.7 165.8L109.8 169.3L110.0 162.4L110.1 170.9L110.2 160.3L110.4 163.4L110.5 161.3L110.7 170.8L110.8 160.3L110.9 162.6L111.1 163.5L111.2 160.8L111.4 169.9L111.5 168.8L111.6 166.0L111.8 163.8L111.9 161.7L112.1 161.5L112.2 163.8L112.3 167.4L112.5 170.6L112.6 162.1L112.8 170.3L112.9 168.0L113.0 161.6L113.2 160.8L113.3 160.9L113.5 169.3L113.6 162.8L113.7 161.5L113.9 166.9L114.0 163.1L114.2 169.4L114.3 167.1L114.4 169.5L114.6 167.4L114.7 168.3L114.9 164.8L115.0 164.4L115.1 169.2L115.3 162.1L115.4 161.2L115.6 170.7L115.7 164.0L115.8 166.5L116.0 164.1L116.1 168.0L116.3 168.3L116.4 162.5L116.5 168.7L116.7 163.4L116.8 166.8L117.0 165.3L117.1 169.6L117.2 164.5L117.4 169.7L117.5 171.2L117.7 167.3L117.8 170.6L117.9 171.5L118.1 162.5L118.2 165.0L118.4 170.6L118.5 169.2L118.6 170.8L118.8 167.9L118.9 164.1L119.1 170.4L119.2 163.9L119.3 167.3L119.5 162.7L119.6 164.5L119.8 165.1L119.9 161.7L120.0 161.8L120.2 171.5L120.3 172.2L120.5 162.3L120.6 164.2L120.7 169.0L120.9 162.0L121.0 161.4L121.2 171.5L121.3 163.4L121.4 172.0L121.6 166.7L121.7 167.7L121.9 167.0L122.0 166.4L122.1 163.6L122.3 167.7L122.4 165.3L122.6 169.8L122.7 163.8L122.8 163.1L123.0 169.8L123.1 166.9L123.3 163.3L123.4 169.8L123.5 163.8L123.7 169.4L123.8 168.8L124.0 163.7L124.1 168.7L124.2 166.1L124.4 161.8L124.5 171.5L124.7 163.6L124.8 164.8L124.9 170.4L125.1 169.0L125.2 162.8L125.4 168.7L125.5 161.7L125.6 169.9L125.8 168.3L125.9 169.2L126.1 168.0L126.2 164.4L126.3 169.3L126.5 165.8L126.6 170.6L126.8 161.6L126.9 163.8L127.0 162.8L127.2 167.0L127.3 168.9L127.5 163.2L127.6 172.3L127.7 164.9L127.9 161.9L128.0 169.8L128.2 162.6L128.3 161.8L128.4 164.1L128.6 166.1L128.7 163.7L128.9 164.6L129.0 163.1L129.1 165.0L129.3 170.3L129.4 164.4L129.6 168.4L129.7 163.5L129.8 162.9L130.0 164.6L130.1 162.3L130.3 166.4L130.4 169.6L130.5 165.7L130.7 163.6L130.8 164.6L131.0 171.5L131.1 163.8L131.2 164.7L131.4 170.2L131.5 163.8L131.7 173.3L131.8 163.0L131.9 161.7L132.1 165.8L132.2 168.2L132.4 168.7L132.5 164.6L132.6 171.4L132.8 171.6L132.9 166.8L133.1 171.2L133.2 170.4L133.3 163.8L133.5 163.6L133.6 163.5L133.8 163.4L133.9 169.6L134.0 165.7L134.2 163.7L134.3 168.1L134.5 164.8L134.6 162.8L134.7 166.0L134.9 171.1L135.0 170.4L135.2 173.1L135.3 166.8L135.4 173.9L135.6 165.6L135.7 167.1L135.9 171.2L136.0 166.7L136.1 163.6L136.3 170.4L136.4 172.6L136.6 165.5L136.7 166.2L136.8 165.1L137.0 169.4L137.1 167.3L137.3 164.4L137.4 171.7L137.5 162.9L137.7 171.3L137.8 171.2L138.0 163.3L138.1 162.6L138.2 170.0L138.4 169.2L138.5 163.7L138.7 166.4L138.8 162.8L138.9 166.2L139.1 168.5L139.2 174.2L139.4 165.7L139.5 163.4L139.6 175.3L139.8 170.7L139.9 163.1L140.1 162.3L140.2 165.8L140.3 164.2L140.5 165.6L140.6 164.7L140.8 174.9L140.9 172.9L141.0 171.1L141.2 163.1L141.3 172.1L141.5 166.3L141.6 172.9L141.7 163.3L141.9 164.2L142.0 164.1L142.2 171.8L142.3 173.1L142.4 171.0L142.6 165.6L142.7 163.3L142.9 173.7L143.0 164.2L143.1 172.6L143.3 167.5L143.4 165.8L143.6 166.6L143.7 163.4L143.8 163.9L144.0 173.2L144.1 167.2L144.3 171.3L144.4 165.7L144.5 167.7L144.7 172.8L144.8 170.6L145.0 166.7L145.1 167.5L145.2 174.6L145.4 163.0L145.5 166.6L145.7 163.8L145.8 164.0L145.9 163.8L146.1 171.4L146.2 167.6L146.4 169.2L146.5 165.7L146.6 166.8L146.8 167.5L146.9 172.7L147.1 164.0L147.2 164.9L147.3 164.8L147.5 167.8L147.6 167.9L147.8 171.2L147.9 174.5L148.0 174.2L148.2 165.3L148.3 167.0L148.5 169.3L148.6 171.7L148.7 168.9L148.9 164.8L149.0 163.9L149.2 166.5L149.3 170.3L149.4 164.9L149.6 167.8L149.7 166.9L149.9 174.5L150.0 172.0L150.1 174.5L150.3 169.3L150.4 168.5L150.6 175.2L150.7 167.2L150.8 170.2L151.0 163.3L151.1 164.6L151.3 165.7L151.4 165.3L151.5 167.6L151.7 174.7L151.8 165.0L152.0 163.2L152.1 170.7L152.2 166.5L152.4 163.0L152.5 174.4L152.7 176.6L152.8 174.0L152.9 174.6L153.1 173.7L153.2 176.3L153.4 164.4L153.5 175.0L153.6 172.2L153.8 174.5L153.9 173.9L154.1 170.0L154.2 171.2L154.3 165.8L154.5 166.8L154.6 164.8L154.8 167.4L154.9 174.4L155.0 166.8L155.2 175.1L155.3 165.1L155.5 172.5L155.6 165.5L155.7 172.5L155.9 175.2L156.0 175.9L156.2 174.8L156.3 164.4L156.4 173.0L156.6 166.2L156.7 169.6L156.9 164.3L157.0 168.1L157.1 172.7L157.3 164.4L157.4 171.4L157.6 174.8L157.7 170.1L157.8 166.9L158.0 165.8L158.1 168.7L158.3 167.8L158.4 171.8L158.5 172.2L158.7 172.2L158.8 172.7L159.0 172.8L159.1 172.2L159.2 166.4L159.4 171.0L159.5 167.8L159.7 164.7L159.8 171.8L159.9 165.2L160.1 172.4L160.2 170.5L160.4 164.8L160.5 168.3L160.6 170.8L160.8 166.2L160.9 175.6L161.1 175.6L161.2 165.1L161.3 172.9L161.5 168.4L161.6 174.2L161.8 176.3L161.9 169.8L162.0 172.1L162.2 167.7L162.3 172.5L162.5 176.1L162.6 167.4L162.7 164.6L162.9 175.4L163.0 164.8L163.2 172.0L163.3 171.0L163.4 168.5L163.6 173.5L163.7 165.9L163.9 166.9L164.0 172.9L164.1 165.0L164.3 167.1L164.4 166.2L164.6 168.7L164.7 172.8L164.8 174.6L165.0 166.7L165.1 164.7L165.3 173.4L165.4 175.6L165.5 164.6L165.7 172.0L165.8 171.9L166.0 171.1L166.1 172.1L166.2 167.0L166.4 176.5L166.5 166.2L166.7 177.3L166.8 176.7L166.9 175.7L167.1 168.3L167.2 175.7L167.4 166.5L167.5 170.0L167.6 170.5L167.8 165.8L167.9 176.0L168.1 166.5L168.2 169.8L168.3 165.7L168.5 167.3L168.6 174.7L168.8 172.9L168.9 168.3L169.0 173.2L169.2 166.0L169.3 173.4L169.5 176.2L169.6 164.6L169.7 167.4L169.9 167.0L170.0 165.3L170.2 176.5L170.3 173.9L170.4 173.1L170.6 173.1L170.7 173.9L170.9 167.3L171.0 166.4L171.1 165.2L171.3 165.8L171.4 166.2L171.6 176.7L171.7 167.5L171.8 168.4L172.0 176.3L172.1 180.0L172.3 165.0L172.4 173.3L172.5 169.0L172.7 165.9L172.8 167.8L173.0 177.1L173.1 167.0L173.2 172.5L173.4 169.8L173.5 165.0L173.7 175.8L173.8 175.6L173.9 174.5L174.1 169.7L174.2 169.7L174.4 173.0L174.5 176.1L174.6 170.9L174.8 168.0L174.9 170.3L175.1 172.6L175.2 173.7L175.3 178.6L175.5 173.0L175.6 177.3L175.8 170.3L175.9 169.9L176.0 178.5L176.2 167.4L176.3 167.8L176.5 172.5L176.6 165.7L176.7 166.3L176.9 171.8L177.0 174.4L177.2 180.0L177.3 165.8L177.4 165.1L177.6 174.9L177.7 177.9L177.9 166.1L178.0 168.2L178.1 174.2L178.3 173.9L178.4 176.7L178.6 174.2L178.7 177.9L178.8 168.2L179.0 174.9L179.1 173.0L179.3 169.5L179.4 175.0L179.5 177.5L179.7 173.4L179.8 176.2L180.0 169.6L180.1 178.6L180.2 169.2L180.4 174.8L180.5 174.4L180.7 172.1L180.8 180.3L180.9 176.6L181.1 174.3L181.2 176.5L181.4 176.8L181.5 168.5L181.6 168.5L181.8 174.3L181.9 166.6L182.1 176.6L182.2 175.7L182.3 174.3L182.5 169.1L182.6 178.5L182.8 175.5L182.9 176.2L183.0 174.5L183.2 172.8L183.3 168.7L183.5 167.9L183.6 175.0L183.7 173.4L183.9 168.5L184.0 168.3L184.2 171.6L184.3 173.6L184.4 174.7L184.6 171.5L184.7 168.3L184.9 172.3L185.0 164.1L185.1 162.9L185.3 162.7L185.4 163.4L185.6 156.8L185.7 154.9L185.8 156.6L186.0 150.5L186.1 147.6L186.3 144.6L186.4 140.3L186.5 140.3L186.7 136.7L186.8 132.3L187.0 127.4L187.1 125.4L187.2 122.2L187.4 118.7L187.5 116.8L187.7 116.1L187.8 114.3L187.9 112.2L188.1 110.4L188.2 109.6L188.4 107.2L188.5 106.4L188.6 105.6L188.8 104.8L188.9 103.4L189.1 102.8L189.2 101.4L189.3 99.8L189.5 95.2L189.6 91.0L189.8 86.8L189.9 82.3L190.0 86.6L190.2 91.3L190.3 95.4L190.5 99.5L190.6 101.9L190.7 103.2L190.9 105.1L191.0 106.6L191.2 107.9L191.3 109.2L191.4 111.0L191.6 113.6L191.7 117.4L191.9 120.1L192.0 123.1L192.1 126.8L192.3 128.3L192.4 131.1L192.6 132.1L192.7 133.9L192.8 134.0L193.0 135.3L193.1 137.0L193.3 138.4L193.4 141.1L193.5 142.7L193.7 144.1L193.8 142.3L194.0 144.5L194.1 146.3L194.2 145.6L194.4 145.0L194.5 145.8L194.7 146.2L194.8 148.1L194.9 148.1L195.1 153.9L195.2 152.7L195.4 150.2L195.5 154.6L195.6 154.4L195.8 157.7L195.9 154.1L196.1 156.0L196.2 158.0L196.3 159.4L196.5 157.6L196.6 163.1L196.8 157.5L196.9 158.6L197.0 159.1L197.2 156.6L197.3 155.0L197.5 157.1L197.6 154.9L197.7 155.4L197.9 154.8L198.0 155.3L198.2 150.9L198.3 149.5L198.4 152.2L198.6 151.6L198.7 150.4L198.9 145.3L199.0 148.4L199.1 146.2L199.3 144.6L199.4 141.9L199.6 141.4L199.7 144.0L199.8 141.1L200.0 141.4L200.1 140.7L200.3 140.2L200.4 139.9L200.5 139.0L200.7 140.9L200.8 139.2L201.0 137.8L201.1 137.4L201.2 139.4L201.4 139.2L201.5 139.2L201.7 138.4L201.8 137.1L201.9 136.7L202.1 137.0L202.2 136.2L202.4 136.5L202.5 136.6L202.6 136.0L202.8 136.0L202.9 136.1L203.1 136.9L203.2 138.8L203.3 139.1L203.5 136.5L203.6 138.3L203.8 136.4L203.9 138.9L204.0 139.0L204.2 138.4L204.3 137.5L204.5 138.5L204.6 137.6L204.7 140.7L204.9 141.8L205.0 139.0L205.2 143.5L205.3 140.2L205.4 144.2L205.6 145.1L205.7 142.6L205.9 145.5L206.0 144.6L206.1 143.5L206.3 146.7L206.4 145.1L206.6 145.0L206.7 149.1L206.8 146.3L207.0 151.3L207.1 147.6L207.3 148.8L207.4 152.8L207.5 153.6L207.7 151.2L207.8 153.6L208.0 156.6L208.1 153.4L208.2 154.6L208.4 154.8L208.5 161.5L208.7 163.0L208.8 158.7L208.9 165.8L209.1 162.5L209.2 166.4L209.4 167.9L209.5 169.1L209.6 169.4L209.8 167.5L209.9 172.7L210.1 167.0L210.2 176.0L210.3 170.1L210.5 177.4L210.6 175.2L210.8 171.9L210.9 172.4L211.0 173.9L211.2 171.3L211.3 174.7L211.5 172.4L211.6 179.4L211.7 169.2L211.9 178.3L212.0 171.4L212.2 178.4L212.3 178.7L212.4 167.4L212.6 180.0L212.7 179.3L212.9 177.0L213.0 168.1L213.1 181.2L213.3 176.1L213.4 168.7L213.6 177.3L213.7 167.1L213.8 178.9L214.0 168.1L214.1 169.6L214.3 166.1L214.4 170.9L214.5 176.2L214.7 176.8L214.8 171.7L215.0 169.9L215.1 168.0L215.2 171.1L215.4 177.5L215.5 179.0L215.7 178.8L215.8 168.2L215.9 168.6L216.1 171.2L216.2 175.0L216.4 167.6L216.5 168.3L216.6 178.6L216.8 180.6L216.9 172.4L217.1 178.9L217.2 177.7L217.3 178.3L217.5 172.2L217.6 180.1L217.8 168.9L217.9 170.4L218.0 175.8L218.2 170.1L218.3 178.5L218.5 178.9L218.6 178.6L218.7 180.3L218.9 176.9L219.0 168.9L219.2 170.0L219.3 165.4L219.4 169.2L219.6 174.2L219.7 174.3L219.9 173.5L220.0 164.6L220.1 173.4L220.3 167.8L220.4 162.5L220.6 170.7L220.7 167.0L220.8 166.2L221.0 164.5L221.1 158.8L221.3 163.3L221.4 164.5L221.5 164.0L221.7 159.7L221.8 161.8L222.0 164.1L222.1 164.7L222.2 159.5L222.4 162.3L222.5 158.4L222.7 158.8L222.8 160.2L222.9 157.9L223.1 160.1L223.2 164.2L223.4 159.8L223.5 158.8L223.6 158.5L223.8 162.0L223.9 160.4L224.1 162.5L224.2 160.4L224.3 161.8L224.5 160.5L224.6 159.6L224.8 158.0L224.9 159.5L225.0 163.9L225.2 159.9L225.3 164.3L225.5 157.7L225.6 163.8L225.7 165.1L225.9 159.1L226.0 160.2L226.2 159.7L226.3 161.5L226.4 166.5L226.6 164.8L226.7 160.0L226.9 168.3L227.0 166.5L227.1 168.0L227.3 169.0L227.4 171.0L227.6 171.6L227.7 165.4L227.8 174.4L228.0 174.7L228.1 170.6L228.3 181.5L228.4 166.9L228.5 174.8L228.7 181.4L228.8 176.2L229.0 172.8L229.1 169.3L229.2 170.6L229.4 172.0L229.5 185.7L229.7 178.5L229.8 173.0L229.9 186.8L230.1 181.3L230.2 172.9L230.4 182.9L230.5 168.7L230.6 178.7L230.8 178.8L230.9 169.4L231.1 183.0L231.2 168.8L231.3 171.4L231.5 183.5L231.6 175.1L231.8 182.2L231.9 178.7L232.0 176.4L232.2 179.4L232.3 170.4L232.5 170.0L232.6 184.5L232.7 181.2L232.9 172.1L233.0 181.2L233.2 184.1L233.3 183.3L233.4 180.6L233.6 178.2L233.7 180.5L233.9 171.8L234.0 176.0L234.1 183.9L234.3 174.5L234.4 173.1L234.6 178.2L234.7 183.1L234.8 184.4L235.0 186.7L235.1 186.8L235.3 170.7L235.4 176.2L235.5 179.1L235.7 181.7L235.8 170.8L236.0 174.6L236.1 174.8L236.2 179.6L236.4 174.6L236.5 173.8L236.7 172.3L236.8 180.2L236.9 173.8L237.1 172.3L237.2 183.8L237.4 174.9L237.5 173.4L237.6 171.0L237.8 178.2L237.9 174.0L238.1 179.9L238.2 173.4L238.3 176.3L238.5 170.6L238.6 169.8L238.8 185.2L238.9 182.0L239.0 175.4L239.2 172.2L239.3 181.2L239.5 179.9L239.6 180.3L239.7 184.7L239.9 174.5L240.0 183.3L240.2 175.7L240.3 184.5L240.4 185.3L240.6 175.3L240.7 177.3L240.9 197.6L241.0 197.6L241.1 171.0L241.3 177.5L241.4 171.3L241.6 182.9L241.7 173.2L241.8 174.2L242.0 174.0L242.1 181.1L242.3 173.9L242.4 175.8L242.5 183.9L242.7 175.8L242.8 183.8L243.0 185.1L243.1 175.9L243.2 172.2L243.4 185.8L243.5 179.4L243.7 174.2L243.8 170.4L243.9 176.3L244.1 170.2L244.2 180.0L244.4 174.7L244.5 173.0L244.6 172.3L244.8 182.7L244.9 184.6L245.1 169.5L245.2 178.4L245.3 169.9L245.5 169.5L245.6 188.1L245.8 173.3L245.9 178.6L246.0 184.6L246.2 180.5L246.3 173.9L246.5 181.5L246.6 183.3L246.7 181.2L246.9 174.6L247.0 183.7L247.2 174.1L247.3 174.1L247.4 172.6L247.6 188.8L247.7 169.9L247.9 169.1L248.0 172.9L248.1 170.5L248.3 174.2L248.4 184.9L248.6 184.0L248.7 172.7L248.8 173.6L249.0 175.1L249.1 182.7L249.3 173.2L249.4 181.2L249.5 180.0L249.7 183.4L249.8 173.0L250.0 184.7L250.1 186.3L250.2 174.7L250.4 185.4L250.5 182.0L250.7 172.3L250.8 175.6L250.9 172.5L251.1 184.3L251.2 172.3L251.4 184.3L251.5 172.9L251.6 184.2L251.8 182.3L251.9 181.9L252.1 172.7L252.2 181.8L252.3 180.0L252.5 174.2L252.6 183.0L252.8 183.2L252.9 179.8L253.0 183.6L253.2 174.0L253.3 171.6L253.5 173.7L253.6 179.1L253.7 183.5L253.9 183.6L254.0 172.2L254.2 185.3L254.3 187.6L254.4 180.5L254.6 176.8L254.7 176.0L254.9 170.9L255.0 172.0L255.1 177.6L255.3 177.9L255.4 178.6L255.6 175.4L255.7 186.0L255.8 170.9L256.0 171.3L256.1 185.7L256.3 179.5L256.4 180.4L256.5 176.2L256.7 175.2L256.8 173.9L257.0 178.3L257.1 185.0L257.2 169.5L257.4 187.5L257.5 171.1L257.7 176.6L257.8 185.5L257.9 170.4L258.1 181.2L258.2 180.4L258.4 179.0L258.5 184.9L258.6 170.3L258.8 171.8L258.9 186.2L259.1 186.3L259.2 170.4L259.3 181.7L259.5 170.2L259.6 186.6L259.8 187.0L259.9 182.4L260.0 176.3L260.2 181.0L260.3 178.9L260.5 184.4L260.6 185.1L260.7 185.7L260.9 184.4L261.0 171.9L261.2 171.7L261.3 181.6L261.4 178.8L261.6 186.1L261.7 169.4L261.9 174.6L262.0 185.9L262.1 175.5L262.3 170.4L262.4 173.3L262.6 186.1L262.7 183.0L262.8 184.1L263.0 172.6L263.1 182.8L263.3 169.2L263.4 172.0L263.5 179.8L263.7 180.1L263.8 175.8L264.0 182.9L264.1 174.4L264.2 172.9L264.4 171.8L264.5 182.4L264.7 183.9L264.8 184.0L264.9 180.5L265.1 169.2L265.2 174.7L265.4 170.7L265.5 172.5L265.6 168.9L265.8 182.0L265.9 172.1L266.1 179.0L266.2 185.5L266.3 172.0L266.5 172.7L266.6 172.3L266.8 169.8L266.9 179.0L267.0 178.6L267.2 179.7L267.3 187.3L267.5 179.8L267.6 180.9L267.7 187.5L267.9 187.1L268.0 178.2L268.2 180.6L268.3 173.8L268.4 176.8L268.6 176.2L268.7 178.3L268.9 171.7L269.0 179.8L269.1 172.8L269.3 173.4L269.4 173.4L269.6 180.6L269.7 170.8L269.8 182.7L270.0 171.9L270.1 178.7L270.3 172.7L270.4 179.5L270.5 181.1L270.7 175.4L270.8 176.0L271.0 182.7L271.1 178.5L271.2 174.2L271.4 172.3L271.5 182.9L271.7 181.5L271.8 173.1L271.9 177.2L272.1 170.6L272.2 183.3L272.4 185.1L272.5 182.3L272.6 182.0L272.8 170.4L272.9 185.4L273.1 179.7L273.2 184.6L273.3 181.9L273.5 183.3L273.6 182.1L273.8 180.5L273.9 178.8L274.0 172.9L274.2 172.6L274.3 182.6L274.5 181.5L274.6 172.7L274.7 171.0L274.9 182.2L275.0 169.7L275.2 179.8L275.3 181.4L275.4 174.9L275.6 185.1L275.7 180.2L275.9 185.5L276.0 180.9L276.1 178.6L276.3 170.1L276.4 184.4L276.6 170.2L276.7 172.7L276.8 179.9L277.0 180.7L277.1 185.2L277.3 184.4L277.4 184.4L277.5 182.0L277.7 174.3L277.8 180.3L278.0 171.1L278.1 173.4L278.2 184.0L278.4 179.8L278.5 184.3L278.7 171.3L278.8 178.8L278.9 171.4L279.1 181.0L279.2 184.6L279.4 193.1L279.5 193.1L279.6 173.3L279.8 169.9L279.9 175.5L280.1 184.3L280.2 187.6L280.3 172.1L280.5 170.1L280.6 168.8L280.8 172.4L280.9 171.6L281.0 170.8L281.2 186.1L281.3 172.3L281.5 170.3L281.6 170.3L281.7 182.6L281.9 174.9L282.0 174.1L282.2 181.7L282.3 180.4L282.4 175.6L282.6 179.9L282.7 173.0L282.9 174.9L283.0 181.3L283.1 169.2L283.3 174.5L283.4 174.1L283.6 173.3L283.7 176.8L283.8 180.5L284.0 180.9L284.1 181.4L284.3 179.1L284.4 169.3L284.5 172.3L284.7 180.2L284.8 170.8L285.0 178.4L285.1 169.4L285.2 183.4L285.4 171.0L285.5 175.0L285.7 170.2L285.8 170.9L285.9 175.7L286.1 177.5L286.2 183.6L286.4 171.4L286.5 185.0L286.6 171.6L286.8 174.2L286.9 185.4L287.1 177.2L287.2 172.1L287.3 175.4L287.5 182.5L287.6 183.4L287.8 170.8L287.9 177.1L288.0 174.1L288.2 170.6L288.3 175.2L288.5 173.2L288.6 179.8L288.7 170.0L288.9 175.5L289.0 173.9L289.2 175.0L289.3 175.2L289.4 182.4L289.6 179.9L289.7 174.4L289.9 173.5L290.0 175.1L290.1 184.2L290.3 179.1L290.4 185.1L290.6 171.5L290.7 177.4L290.8 180.8L291.0 182.7L291.1 170.4L291.3 174.5L291.4 183.3L291.5 178.8L291.7 171.2L291.8 174.8L292.0 176.7L292.1 169.8L292.2 174.8L292.4 175.8L292.5 185.3L292.7 177.3L292.8 177.7L292.9 169.8L293.1 169.1L293.2 175.3L293.4 180.8L293.5 171.1L293.6 179.3L293.8 169.1L293.9 171.9L294.1 177.6L294.2 172.6L294.3 175.0L294.5 182.1L294.6 170.8L294.8 180.5L294.9 184.3L295.0 182.5L295.2 174.0L295.3 179.7L295.5 170.0L295.6 181.7L295.7 182.5L295.9 171.4L296.0 173.8L296.2 179.4L296.3 180.4L296.4 179.7L296.6 182.3L296.7 183.4L296.9 175.6L297.0 169.1L297.1 181.1L297.3 170.5L297.4 177.4L297.6 180.4L297.7 182.4L297.8 177.5L298.0 179.7L298.1 184.4L298.3 181.0L298.4 172.6L298.5 183.6L298.7 180.2L298.8 172.9L299.0 172.6L299.1 175.1L299.2 176.9L299.4 181.6L299.5 175.3L299.7 180.0L299.8 173.4L299.9 175.6L300.1 173.2L300.2 174.2L300.4 179.6L300.5 172.2L300.6 176.1L300.8 180.7L300.9 169.8L301.1 174.5L301.2 180.4L301.3 179.3L301.5 180.6L301.6 172.5L301.8 178.9L301.9 173.0L302.0 170.0L302.2 182.8L302.3 172.5L302.5 181.4L302.6 182.3L302.7 182.7L302.9 172.5L303.0 182.8L303.2 171.7L303.3 180.7L303.4 169.1L303.6 182.5L303.7 169.6L303.9 181.0L304.0 179.2L304.1 169.7L304.3 178.5L304.4 180.7L304.6 183.1L304.7 186.0L304.8 171.7L305.0 174.7L305.1 173.5L305.3 180.8L305.4 170.9L305.5 178.5L305.7 171.6L305.8 171.2L306.0 182.5L306.1 178.2L306.2 182.6L306.4 180.4L306.5 183.0L306.7 175.7L306.8 169.4L306.9 184.1L307.1 171.9L307.2 182.5L307.4 171.4L307.5 177.0L307.6 172.7L307.8 179.0L307.9 170.7L308.1 170.6L308.2 175.5L308.3 181.8L308.5 175.6L308.6 171.0L308.8 183.7L308.9 170.6L309.0 173.1L309.2 178.0L309.3 172.4L309.5 180.8L309.6 174.5L309.7 183.5L309.9 169.3L310.0 184.1L310.2 186.0L310.3 171.5L310.4 171.5L310.6 184.7L310.7 174.4L310.9 174.1L311.0 179.2L311.1 178.3L311.3 183.5L311.4 180.2L311.6 180.4L311.7 174.8L311.8 176.9L312.0 181.2L312.1 181.6L312.3 178.4L312.4 178.2L312.5 173.1L312.7 175.9L312.8 171.9L313.0 176.0L313.1 170.3L313.2 172.5L313.4 172.9L313.5 175.7L313.7 180.0L313.8 170.3L313.9 179.7L314.1 182.3L314.2 170.7L314.4 170.4L314.5 169.9L314.6 180.1L314.8 174.0L314.9 168.8L315.1 169.9L315.2 173.4L315.3 168.9L315.5 184.0L315.6 170.5L315.8 184.5L315.9 168.5L316.0 172.8L316.2 187.4L316.3 170.0L316.5 168.6L316.6 185.0L316.7 184.0L316.9 176.3L317.0 169.9L317.2 172.4L317.3 175.0L317.4 184.8L317.6 171.5L317.7 180.3L317.9 181.5L318.0 184.7L318.1 197.4L318.3 197.4L318.4 174.8L318.6 175.6L318.7 179.4L318.8 177.9L319.0 169.4L319.1 184.4L319.3 173.3L319.4 180.8L319.5 172.5L319.7 175.0L319.8 186.9L320.0 168.6L320.1 180.4L320.2 170.9L320.4 187.1L320.5 184.6L320.7 184.7L320.8 183.9L320.9 173.1L321.1 176.9L321.2 185.8L321.4 175.6L321.5 184.4L321.6 182.6L321.8 176.0L321.9 177.6L322.1 177.4L322.2 172.0L322.3 173.2L322.5 174.6L322.6 177.7L322.8 183.7L322.9 175.9L323.0 178.2L323.2 180.7L323.3 181.6L323.5 183.0L323.6 180.4L323.7 178.7L323.9 180.6L324.0 170.7L324.2 179.9L324.3 171.8L324.4 183.2L324.6 182.2L324.7 179.3L324.9 184.2L325.0 169.3L325.1 169.7L325.3 176.3L325.4 171.4L325.6 169.6L325.7 184.4L325.8 174.4L326.0 184.0L326.1 172.4L326.3 180.2L326.4 169.0L326.5 180.5L326.7 182.8L326.8 180.6L327.0 175.7L327.1 183.1L327.2 171.0L327.4 181.8L327.5 172.1L327.7 168.7L327.8 173.4L327.9 184.0L328.1 170.1L328.2 183.6L328.4 173.2L328.5 176.1L328.6 168.7L328.8 170.1L328.9 181.9L329.1 187.3L329.2 171.6L329.3 182.4L329.5 186.0L329.6 185.4L329.8 187.0L329.9 169.3L330.0 181.3L330.2 172.3L330.3 168.9L330.5 176.4L330.6 185.6L330.7 194.7L330.9 194.7L331.0 186.1L331.2 180.7L331.3 170.9L331.4 169.3L331.6 170.0L331.7 169.6L331.9 183.2L332.0 180.5L332.1 171.0L332.3 174.9L332.4 175.2L332.6 182.9L332.7 183.5L332.8 169.0L333.0 168.9L333.1 179.7L333.3 169.3L333.4 174.5L333.5 180.0L333.7 177.2L333.8 170.8L334.0 172.1L334.1 178.1L334.2 170.2L334.4 186.1L334.5 171.8L334.7 184.6L334.8 170.8L334.9 176.4L335.1 183.8L335.2 181.2L335.4 170.2L335.5 172.1L335.6 174.1L335.8 176.8L335.9 183.9L336.1 173.4L336.2 173.5L336.3 177.8L336.5 171.6L336.6 183.8L336.8 168.3L336.9 182.4L337.0 185.1L337.2 172.9L337.3 183.5L337.5 182.5L337.6 183.2L337.7 180.8L337.9 178.1L338.0 172.4L338.2 174.6L338.3 170.2L338.4 179.9L338.6 177.2L338.7 169.8L338.9 170.3L339.0 173.4L339.1 171.7L339.3 171.6L339.4 181.3L339.6 173.2L339.7 169.9L339.8 183.4L340.0 183.9L340.1 182.2L340.3 175.3L340.4 184.1L340.5 183.7L340.7 180.3L340.8 181.3L341.0 181.7L341.1 178.0L341.2 184.0L341.4 183.7L341.5 181.1L341.7 180.5L341.8 175.5L341.9 173.2L342.1 184.1L342.2 178.6L342.4 184.0L342.5 171.9L342.6 171.1L342.8 180.7L342.9 179.4L343.1 174.6L343.2 177.2L343.3 184.8L343.5 180.5L343.6 178.0L343.8 172.4L343.9 170.8L344.0 173.8L344.2 172.6L344.3 181.4L344.5 186.0L344.6 184.0L344.7 172.3L344.9 172.6L345.0 178.8L345.2 183.1L345.3 172.7L345.4 172.3L345.6 175.8L345.7 181.5L345.9 175.3L346.0 169.6L346.1 180.3L346.3 183.4L346.4 180.6L346.6 169.4L346.7 172.3L346.8 177.3L347.0 176.3L347.1 170.1L347.3 172.6L347.4 174.4L347.5 176.7L347.7 185.0L347.8 180.9L348.0 177.4L348.1 169.4L348.2 169.6L348.4 181.7L348.5 178.3L348.7 180.6L348.8 170.4L348.9 184.7L349.1 177.1L349.2 178.7L349.4 180.6L349.5 179.6L349.6 181.3L349.8 171.6L349.9 169.7L350.1 174.7L350.2 181.4L350.3 181.1L350.5 174.1L350.6 181.7L350.8 182.2L350.9 183.5L351.0 186.6L351.2 175.3L351.3 183.2L351.5 186.5L351.6 196.9L351.7 196.9L351.9 172.7L352.0 181.9L352.2 169.6L352.3 170.4L352.4 169.1L352.6 180.8L352.7 168.6L352.9 175.9L353.0 182.6L353.1 172.0L353.3 170.9L353.4 185.8L353.6 171.3L353.7 178.4L353.8 175.5L354.0 182.6L354.1 179.2L354.3 175.9L354.4 172.3L354.5 182.3L354.7 172.9L354.8 182.4L355.0 180.2L355.1 178.0L355.2 184.9L355.4 180.2L355.5 179.3L355.7 181.8L355.8 170.6L355.9 174.9L356.1 168.2L356.2 170.2L356.4 168.9L356.5 179.1L356.6 172.6L356.8 170.3L356.9 173.9L357.1 187.3L357.2 168.7L357.3 169.6L357.5 185.4L357.6 171.0L357.8 181.2L357.9 169.3L358.0 168.6L358.2 180.0L358.3 182.6L358.5 170.9L358.6 175.3L358.7 170.4L358.9 184.5L359.0 170.2L359.2 178.7L359.3 187.7L359.4 171.0L359.6 183.0L359.7 176.2L359.9 184.4L360.0 185.0L360.1 176.4L360.3 175.5L360.4 183.1L360.6 181.3L360.7 172.9L360.8 185.7L361.0 176.7L361.1 171.8L361.3 174.1L361.4 174.1L361.5 176.5L361.7 173.4L361.8 175.3L362.0 183.4L362.1 184.9L362.2 172.0L362.4 172.8L362.5 173.9L362.7 171.8L362.8 171.7L362.9 176.0L363.1 174.7L363.2 170.2L363.4 177.2L363.5 175.7L363.6 184.8L363.8 182.6L363.9 179.8L364.1 177.4L364.2 170.2L364.3 180.0L364.5 185.1L364.6 185.3L364.8 184.8L364.9 181.7L365.0 173.3L365.2 171.5L365.3 172.1L365.5 174.3L365.6 170.8L365.7 173.1L365.9 183.3L366.0 180.4L366.2 179.7L366.3 171.1L366.4 176.8L366.6 176.2L366.7 183.8L366.9 180.8L367.0 172.4L367.1 171.9L367.3 169.8L367.4 176.4L367.6 179.8L367.7 174.1L367.8 185.0L368.0 181.9L368.1 178.2L368.3 174.1L368.4 180.7L368.5 181.2L368.7 181.1L368.8 172.9L369.0 174.4L369.1 171.9L369.2 170.8L369.4 172.9L369.5 172.2L369.7 172.4L369.8 175.8L369.9 174.0L370.1 181.3L370.2 172.2L370.4 181.7L370.5 184.9L370.6 176.5L370.8 183.7L370.9 169.3L371.1 171.9L371.2 169.5L371.3 176.2L371.5 173.7L371.6 175.8L371.8 171.2L371.9 168.3L372.0 184.1L372.2 187.7L372.3 170.4L372.5 183.6L372.6 173.0L372.7 183.7L372.9 180.3L373.0 183.2L373.2 186.9L373.3 172.1L373.4 184.7L373.6 171.1L373.7 182.9L373.9 170.5L374.0 171.0L374.1 174.7L374.3 171.3L374.4 182.3L374.6 169.7L374.7 173.4L374.8 178.5L375.0 181.5L375.1 183.5L375.3 177.5L375.4 171.7L375.5 172.3L375.7 178.5L375.8 170.9L376.0 182.2L376.1 182.4L376.2 181.9L376.4 186.7L376.5 175.1L376.7 186.6L376.8 170.6L376.9 171.5L377.1 177.9L377.2 186.8L377.4 168.2L377.5 184.9L377.6 173.6L377.8 184.5L377.9 183.7L378.1 182.9L378.2 178.1L378.3 170.8L378.5 172.9L378.6 173.6L378.8 179.6L378.9 173.5L379.0 176.1L379.2 173.7L379.3 179.2L379.5 170.8L379.6 174.1L379.7 183.5L379.9 172.5L380.0 176.0L380.2 181.8L380.3 180.1L380.4 175.5L380.6 169.9L380.7 182.8L380.9 183.3L381.0 182.7L381.1 182.5L381.3 185.0L381.4 184.7L381.6 175.6L381.7 174.1L381.8 175.2L382.0 170.3L382.1 171.1L382.3 181.0L382.4 181.3L382.5 180.4L382.7 178.2L382.8 171.4L383.0 174.2L383.1 181.4L383.2 182.6L383.4 172.9L383.5 174.0L383.7 171.3L383.8 173.6L383.9 175.1L384.1 172.6L384.2 183.0L384.4 169.9L384.5 174.9L384.6 169.5L384.8 173.5L384.9 181.9L385.1 170.1L385.2 178.6L385.3 178.2L385.5 178.0L385.6 176.6L385.8 179.1L385.9 172.2L386.0 172.2L386.2 181.8L386.3 171.3L386.5 181.9L386.6 183.4L386.7 178.5L386.9 172.3L387.0 174.8L387.2 177.1L387.3 181.5L387.4 185.2L387.6 174.7L387.7 171.4L387.9 172.6L388.0 184.8L388.1 171.3L388.3 172.1L388.4 169.0L388.6 179.8L388.7 175.6L388.8 183.5L389.0 180.7L389.1 181.2L389.3 182.2L389.4 175.2L389.5 172.2L389.7 168.0L389.8 173.8L390.0 168.0L390.1 170.9L390.2 173.6L390.4 177.5L390.5 173.6L390.7 171.2L390.8 182.7L390.9 172.8L391.1 173.3L391.2 171.5L391.4 169.6L391.5 181.4L391.6 175.3L391.8 177.7L391.9 181.6L392.1 182.5L392.2 178.3L392.3 183.6L392.5 177.6L392.6 182.9L392.8 175.6L392.9 172.2L393.0 176.4L393.2 170.8L393.3 173.9L393.5 171.5L393.6 175.2L393.7 170.0L393.9 174.9L394.0 178.1L394.2 184.5L394.3 183.6L394.4 179.4L394.6 175.3L394.7 181.3L394.9 184.4L395.0 181.1L395.1 171.1L395.3 179.5L395.4 176.4L395.6 184.6L395.7 180.8L395.8 186.2L396.0 168.9L396.1 181.5L396.3 171.3L396.4 175.5L396.5 183.2L396.7 184.6L396.8 171.9L397.0 182.1L397.1 170.7L397.2 173.0L397.4 171.8L397.5 181.9L397.7 171.0L397.8 180.3L397.9 177.0L398.1 179.5L398.2 170.5L398.4 175.5L398.5 178.0L398.6 172.5L398.8 179.7L398.9 169.9L399.1 170.0L399.2 179.9L399.3 172.2L399.5 182.7L399.6 178.2L399.8 183.3L399.9 182.4L400.0 180.8L400.2 185.7L400.3 171.8L400.5 178.7L400.6 170.1L400.7 181.8L400.9 184.2L401.0 185.9L401.2 177.9L401.3 185.9L401.4 173.6L401.6 173.2L401.7 182.3L401.9 185.2L402.0 169.8L402.1 176.9L402.3 175.2L402.4 169.7L402.6 170.9L402.7 180.7L402.8 181.6L403.0 178.0L403.1 172.4L403.3 183.3L403.4 174.8L403.5 171.0L403.7 181.1L403.8 180.0L404.0 180.7L404.1 173.9L404.2 172.1L404.4 171.4L404.5 179.7L404.7 172.6L404.8 181.9L404.9 184.4L405.1 184.0L405.2 168.7L405.4 180.5L405.5 169.1L405.6 172.5L405.8 172.5L405.9 178.4L406.1 168.9L406.2 171.4L406.3 186.0L406.5 168.7L406.6 173.1L406.8 176.1L406.9 170.3L407.0 172.6L407.2 179.8L407.3 173.0L407.5 178.4L407.6 185.0L407.7 170.0L407.9 180.2L408.0 169.2L408.2 174.1L408.3 181.3L408.4 185.6L408.6 175.4L408.7 180.4L408.9 176.0L409.0 170.1L409.1 169.5L409.3 178.7L409.4 185.4L409.6 171.6L409.7 183.3L409.8 180.5L410.0 173.0L410.1 180.6L410.3 169.7L410.4 172.0L410.5 173.9L410.7 179.9L410.8 169.5L411.0 169.8L411.1 184.3L411.2 177.5L411.4 183.9L411.5 185.5L411.7 170.7L411.8 173.8L411.9 187.0L412.1 168.6L412.2 185.8L412.4 186.4L412.5 182.7L412.6 173.9L412.8 180.5L412.9 169.1L413.1 173.6L413.2 169.5L413.3 174.8L413.5 180.3L413.6 169.1L413.8 184.0L413.9 169.6L414.0 171.7L414.2 174.0L414.3 170.2L414.5 182.0L414.6 181.1L414.7 179.5L414.9 174.6L415.0 179.4L415.2 173.7L415.3 181.2L415.4 185.5L415.6 182.3L415.7 173.6L415.9 183.1L416.0 173.0L416.1 180.1L416.3 180.3L416.4 174.6L416.6 181.1L416.7 182.4L416.8 171.1L417.0 170.4L417.1 173.1L417.3 169.9L417.4 182.7L417.5 172.5L417.7 170.9L417.8 178.4L418.0 183.5L418.1 183.5L418.2 184.3" stroke="#067f06" stroke-width="2.7" fill="none" stroke-linejoin="round" stroke-linecap="round"/>
<path d="M189.8 136V104" stroke="#067f06" stroke-width="5" fill="none"/>
<text y="32.6" font-size="33.5" font-family="Liberation Sans, Arial, sans-serif" fill="#000"><tspan x="2.2">a</tspan><tspan x="24.3" y="32.6" font-size="37.5">)</tspan></text>
<text y="31" font-size="36" font-family="Liberation Sans, Arial, sans-serif" fill="#000"><tspan x="466.2">b</tspan><tspan x="488.8" y="31.2" font-size="37.5">)</tspan></text>
<text x="179.6" y="73" font-size="26" font-family="Liberation Sans, Arial, sans-serif" fill="#000" font-weight="bold" textLength="161.5" lengthAdjust="spacingAndGlyphs" >GaN (0002)</text>
<text y="122.7" font-size="26" font-family="Liberation Sans, Arial, sans-serif" font-weight="bold" fill="#ee1c25"><tspan x="194.6" textLength="50.5" lengthAdjust="spacingAndGlyphs">AlN</tspan> <tspan x="258" textLength="89.5" lengthAdjust="spacingAndGlyphs">(0002)</tspan></text>
<text x="64.2" y="88.9" font-size="18.3" font-family="Liberation Sans, Arial, sans-serif" fill="#000" font-weight="bold" textLength="112.3" lengthAdjust="spacingAndGlyphs" >Heat treated</text>
<text x="64.2" y="111.9" font-size="18.3" font-family="Liberation Sans, Arial, sans-serif" fill="#000" font-weight="bold" textLength="119.6" lengthAdjust="spacingAndGlyphs" >at 1573 K-3 h</text>
<text x="281" y="275" font-size="26" font-family="Liberation Sans, Arial, sans-serif" fill="#00008b" font-weight="bold" textLength="122.5" lengthAdjust="spacingAndGlyphs" >Al-depo.</text>
<text y="301.9" font-size="25.5" font-family="Liberation Sans, Arial, sans-serif" font-weight="bold" fill="#000"><tspan x="212.2" textLength="26" lengthAdjust="spacingAndGlyphs">Al</tspan> <tspan x="253.2" textLength="68" lengthAdjust="spacingAndGlyphs">(111)</tspan></text>
<text y="323.2" font-size="25.5" font-family="Liberation Sans, Arial, sans-serif" font-weight="bold" fill="#000"><tspan x="272.4" textLength="27" lengthAdjust="spacingAndGlyphs">Al</tspan> <tspan x="313" textLength="72" lengthAdjust="spacingAndGlyphs">(200)</tspan></text>
<text x="261.2" y="471.5" font-size="26" font-family="Liberation Sans, Arial, sans-serif" fill="#00008b" font-weight="bold" textLength="141.3" lengthAdjust="spacingAndGlyphs" >Bare GaN</text>
<text x="59" y="558.3" font-size="32" font-family="DejaVu Sans, Verdana, sans-serif" fill="#000" textLength="48.3" lengthAdjust="spacingAndGlyphs" text-anchor="middle" >20</text>
<text x="149.6" y="558.3" font-size="32" font-family="DejaVu Sans, Verdana, sans-serif" fill="#000" textLength="48.3" lengthAdjust="spacingAndGlyphs" text-anchor="middle" >30</text>
<text x="239.6" y="558.3" font-size="32" font-family="DejaVu Sans, Verdana, sans-serif" fill="#000" textLength="48.3" lengthAdjust="spacingAndGlyphs" text-anchor="middle" >40</text>
<text x="330.2" y="558.3" font-size="32" font-family="DejaVu Sans, Verdana, sans-serif" fill="#000" textLength="48.3" lengthAdjust="spacingAndGlyphs" text-anchor="middle" >50</text>
<text x="421.4" y="558.3" font-size="32" font-family="DejaVu Sans, Verdana, sans-serif" fill="#000" textLength="48.3" lengthAdjust="spacingAndGlyphs" text-anchor="middle" >60</text>
<g transform="scale(1.19,1)"><text y="587.2" font-size="32" font-family="DejaVu Sans, Verdana, sans-serif" fill="#000"><tspan x="159.66">2</tspan><tspan x="179.75" font-style="italic">ϴ</tspan><tspan x="205.04"> </tspan><tspan x="211.43" y="589.5" font-size="38">(</tspan><tspan x="222.86" y="587.6" font-size="34">°</tspan><tspan x="238.32" y="589.5" font-size="38">)</tspan></text></g>
<text transform="translate(30,482.3) rotate(-90)" font-size="36.5" font-family="Liberation Sans, Arial, sans-serif" fill="#000" textLength="398" lengthAdjust="spacingAndGlyphs">Intensity, log <tspan font-style="italic">I</tspan> (arb. unit)</text>
<path d="M525.6 533.6V179.3H1037.0V533.6" fill="none" stroke="#000" stroke-width="1.9"/>
<path d="M610.8 179.3v10.5 M610.8 533.6v-11 M696.1 179.3v10.5 M696.1 533.6v-11 M781.3 179.3v10.5 M781.3 533.6v-11 M866.5 179.3v10.5 M866.5 533.6v-11 M951.8 179.3v10.5 M951.8 533.6v-11" stroke="#000" stroke-width="1.8" fill="none"/>
<path d="M525.6 289.9L526.0 289.8L526.5 276.7L526.9 279.4L527.3 276.7L527.7 283.7L528.2 284.0L528.6 281.2L529.0 281.0L529.4 291.0L529.9 288.1L530.3 282.8L530.7 284.5L531.1 289.7L531.6 279.1L532.0 276.7L532.4 277.1L532.8 285.4L533.3 287.8L533.7 281.9L534.1 286.8L534.5 282.9L535.0 289.7L535.4 281.0L535.8 288.5L536.3 290.3L536.7 281.9L537.1 290.3L537.5 290.0L538.0 280.5L538.4 289.1L538.8 280.2L539.2 286.0L539.7 284.2L540.1 281.7L540.5 282.8L540.9 289.6L541.4 283.1L541.8 282.0L542.2 288.0L542.6 284.6L543.1 289.1L543.5 282.5L543.9 283.2L544.4 288.9L544.8 286.0L545.2 286.0L545.6 282.5L546.1 280.9L546.5 290.6L546.9 281.1L547.3 290.0L547.8 283.3L548.2 277.0L548.6 280.0L549.0 276.5L549.5 287.1L549.9 282.1L550.3 289.1L550.7 288.6L551.2 288.9L551.6 284.6L552.0 282.0L552.4 288.0L552.9 281.5L553.3 288.2L553.7 287.8L554.2 283.7L554.6 288.7L555.0 283.1L555.4 284.4L555.9 288.1L556.3 284.2L556.7 287.8L557.1 291.7L557.6 293.2L558.0 291.4L558.4 288.3L558.8 289.3L559.3 281.8L559.7 288.4L560.1 289.3L560.5 283.7L561.0 287.3L561.4 284.8L561.8 290.8L562.3 282.8L562.7 266.0L563.1 266.0L563.5 251.2L564.0 251.2L564.4 251.2L564.8 266.0L565.2 266.0L565.7 266.0L566.1 281.6L566.5 289.7L566.9 282.0L567.4 283.9L567.8 280.8L568.2 290.3L568.6 290.4L569.1 280.7L569.5 286.8L569.9 282.0L570.3 285.2L570.8 287.2L571.2 280.3L571.6 290.4L572.1 281.8L572.5 284.1L572.9 279.5L573.3 278.7L573.8 280.6L574.2 282.2L574.6 291.9L575.0 291.3L575.5 284.8L575.9 284.1L576.3 288.7L576.7 290.8L577.2 282.6L577.6 289.9L578.0 283.7L578.4 287.7L578.9 288.9L579.3 285.8L579.7 288.3L580.1 288.3L580.6 281.0L581.0 281.0L581.4 281.7L581.9 282.1L582.3 281.5L582.7 280.5L583.1 281.8L583.6 287.9L584.0 290.6L584.4 283.1L584.8 283.2L585.3 291.8L585.7 294.2L586.1 292.3L586.5 291.4L587.0 283.0L587.4 289.7L587.8 282.3L588.2 290.4L588.7 281.4L589.1 290.7L589.5 286.1L590.0 289.6L590.4 287.0L590.8 282.1L591.2 285.3L591.7 280.6L592.1 281.2L592.5 286.5L592.9 284.9L593.4 289.1L593.8 281.9L594.2 286.9L594.6 285.3L595.1 287.5L595.5 288.8L595.9 286.4L596.3 286.9L596.8 285.4L597.2 287.4L597.6 282.8L598.0 286.8L598.5 287.9L598.9 283.0L599.3 289.5L599.8 288.4L600.2 289.4L600.6 283.4L601.0 284.9L601.5 283.8L601.9 282.9L602.3 282.6L602.7 283.7L603.2 288.4L603.6 282.9L604.0 288.0L604.4 282.8L604.9 281.7L605.3 282.3L605.7 288.1L606.1 285.8L606.6 286.8L607.0 284.5L607.4 282.4L607.9 285.1L608.3 290.9L608.7 281.4L609.1 279.9L609.6 278.5L610.0 277.2L610.4 283.2L610.8 281.5L611.3 289.9L611.7 283.6L612.1 282.0L612.5 281.4L613.0 281.3L613.4 282.6L613.8 284.3L614.2 287.3L614.7 290.0L615.1 290.1L615.5 281.9L615.9 288.2L616.4 291.3L616.8 279.9L617.2 290.9L617.7 291.5L618.1 291.5L618.5 293.8L618.9 288.5L619.4 286.2L619.8 276.6L620.2 277.8L620.6 293.4L621.1 294.8L621.5 294.3L621.9 291.2L622.3 283.1L622.8 290.7L623.2 283.7L623.6 283.2L624.0 283.2L624.5 280.8L624.9 282.2L625.3 282.1L625.7 280.6L626.2 287.0L626.6 284.2L627.0 280.7L627.5 282.1L627.9 289.6L628.3 282.2L628.7 283.9L629.2 289.7L629.6 282.1L630.0 284.0L630.4 288.9L630.9 282.1L631.3 282.2L631.7 289.8L632.1 288.0L632.6 283.0L633.0 285.2L633.4 282.9L633.8 289.6L634.3 289.4L634.7 282.6L635.1 278.3L635.6 276.9L636.0 276.2L636.4 288.4L636.8 288.0L637.3 282.4L637.7 283.5L638.1 284.3L638.5 283.9L639.0 288.3L639.4 289.1L639.8 283.4L640.2 284.5L640.7 281.1L641.1 283.7L641.5 290.4L641.9 285.9L642.4 286.9L642.8 287.7L643.2 286.9L643.6 288.9L644.1 283.2L644.5 283.5L644.9 278.4L645.4 280.0L645.8 247.2L646.2 247.2L646.6 247.2L647.1 247.2L647.5 278.2L647.9 277.6L648.3 276.6L648.8 286.4L649.2 281.4L649.6 282.9L650.0 290.2L650.5 283.4L650.9 289.8L651.3 280.1L651.7 291.5L652.2 291.6L652.6 288.9L653.0 281.7L653.5 288.1L653.9 282.2L654.3 283.7L654.7 281.3L655.2 281.5L655.6 281.7L656.0 281.9L656.4 289.6L656.9 282.6L657.3 289.2L657.7 280.8L658.1 281.7L658.6 281.8L659.0 289.5L659.4 289.3L659.8 281.0L660.3 290.0L660.7 282.0L661.1 282.2L661.5 287.5L662.0 282.0L662.4 290.8L662.8 283.1L663.3 287.4L663.7 287.4L664.1 282.2L664.5 289.3L665.0 291.5L665.4 287.6L665.8 280.8L666.2 290.1L666.7 288.4L667.1 285.2L667.5 288.3L667.9 282.2L668.4 282.9L668.8 286.2L669.2 281.6L669.6 287.2L670.1 282.8L670.5 282.9L670.9 289.6L671.3 287.5L671.8 282.7L672.2 288.1L672.6 292.0L673.1 293.3L673.5 294.4L673.9 283.7L674.3 287.1L674.8 287.3L675.2 281.6L675.6 288.1L676.0 286.3L676.5 286.3L676.9 288.4L677.3 282.3L677.7 282.7L678.2 289.8L678.6 283.2L679.0 282.9L679.4 281.0L679.9 283.2L680.3 287.0L680.7 281.1L681.2 282.7L681.6 282.7L682.0 281.7L682.4 289.2L682.9 290.3L683.3 290.3L683.7 284.2L684.1 281.0L684.6 283.4L685.0 286.5L685.4 284.0L685.8 288.3L686.3 287.9L686.7 288.9L687.1 285.0L687.5 282.9L688.0 289.1L688.4 292.8L688.8 294.1L689.2 292.5L689.7 287.7L690.1 288.7L690.5 289.4L691.0 281.9L691.4 282.8L691.8 284.3L692.2 287.0L692.7 289.1L693.1 287.0L693.5 286.4L693.9 282.5L694.4 287.7L694.8 287.1L695.2 289.4L695.6 282.5L696.1 281.8L696.5 283.4L696.9 283.0L697.3 284.3L697.8 281.0L698.2 288.9L698.6 290.0L699.0 280.6L699.5 290.3L699.9 280.7L700.3 282.4L700.8 285.0L701.2 283.8L701.6 281.6L702.0 289.2L702.5 290.3L702.9 281.7L703.3 281.3L703.7 286.5L704.2 281.3L704.6 290.9L705.0 290.2L705.4 290.0L705.9 283.7L706.3 289.9L706.7 283.6L707.1 284.4L707.6 280.4L708.0 279.5L708.4 289.1L708.9 280.9L709.3 292.3L709.7 287.7L710.1 288.0L710.6 291.8L711.0 281.6L711.4 278.8L711.8 280.8L712.3 284.1L712.7 280.1L713.1 281.4L713.5 290.2L714.0 282.9L714.4 282.8L714.8 281.8L715.2 286.7L715.7 290.7L716.1 281.6L716.5 289.9L716.9 289.2L717.4 287.5L717.8 286.8L718.2 286.4L718.7 281.2L719.1 287.2L719.5 290.4L719.9 288.9L720.4 284.5L720.8 294.9L721.2 294.5L721.6 294.9L722.1 276.4L722.5 276.9L722.9 279.8L723.3 290.5L723.8 287.0L724.2 279.6L724.6 287.0L725.0 288.3L725.5 280.3L725.9 284.8L726.3 291.1L726.8 280.5L727.2 280.3L727.6 280.9L728.0 288.9L728.5 290.5L728.9 281.5L729.3 290.1L729.7 262.0L730.2 262.0L730.6 239.0L731.0 239.0L731.4 239.0L731.9 262.0L732.3 262.0L732.7 289.4L733.1 284.5L733.6 290.5L734.0 283.8L734.4 289.9L734.8 280.3L735.3 282.8L735.7 280.9L736.1 283.6L736.6 283.6L737.0 281.6L737.4 283.7L737.8 288.8L738.3 287.6L738.7 281.6L739.1 289.2L739.5 289.0L740.0 284.0L740.4 284.6L740.8 282.3L741.2 289.5L741.7 283.7L742.1 282.9L742.5 290.3L742.9 282.9L743.4 282.3L743.8 283.7L744.2 286.3L744.6 287.6L745.1 284.0L745.5 288.3L745.9 281.1L746.4 278.8L746.8 278.0L747.2 278.0L747.6 284.6L748.1 282.9L748.5 289.2L748.9 284.6L749.3 291.5L749.8 291.6L750.2 295.2L750.6 283.6L751.0 281.4L751.5 290.3L751.9 281.2L752.3 289.5L752.7 283.7L753.2 285.3L753.6 289.2L754.0 279.9L754.5 285.1L754.9 284.5L755.3 283.9L755.7 280.2L756.2 280.2L756.6 285.2L757.0 284.3L757.4 282.7L757.9 280.6L758.3 283.2L758.7 288.6L759.1 290.0L759.6 289.6L760.0 280.1L760.4 283.1L760.8 285.2L761.3 290.2L761.7 287.5L762.1 290.3L762.5 289.2L763.0 280.3L763.4 291.2L763.8 287.1L764.3 287.7L764.7 282.4L765.1 289.9L765.5 290.9L766.0 283.1L766.4 285.1L766.8 279.7L767.2 289.7L767.7 288.5L768.1 279.9L768.5 279.3L768.9 277.8L769.4 289.9L769.8 289.6L770.2 281.0L770.6 282.0L771.1 289.9L771.5 293.7L771.9 293.6L772.4 294.5L772.8 289.3L773.2 282.3L773.6 283.1L774.1 281.1L774.5 281.9L774.9 291.7L775.3 294.0L775.8 292.0L776.2 281.3L776.6 289.6L777.0 285.1L777.5 287.4L777.9 287.9L778.3 282.8L778.7 288.4L779.2 284.6L779.6 285.6L780.0 283.1L780.4 283.4L780.9 284.9L781.3 287.7L781.7 284.8L782.2 286.8L782.6 288.5L783.0 284.0L783.4 280.9L783.9 287.2L784.3 291.1L784.7 280.0L785.1 284.3L785.6 289.0L786.0 285.1L786.4 280.5L786.8 286.3L787.3 280.5L787.7 280.7L788.1 282.7L788.5 281.1L789.0 286.0L789.4 291.5L789.8 281.5L790.2 291.5L790.7 282.7L791.1 290.4L791.5 286.7L792.0 290.6L792.4 291.3L792.8 291.2L793.2 280.8L793.7 291.3L794.1 280.8L794.5 289.0L794.9 293.4L795.4 292.3L795.8 294.1L796.2 287.9L796.6 294.3L797.1 292.7L797.5 292.1L797.9 284.1L798.3 292.4L798.8 293.1L799.2 291.5L799.6 288.5L800.1 290.7L800.5 282.9L800.9 281.9L801.3 282.6L801.8 282.0L802.2 284.0L802.6 288.8L803.0 289.1L803.5 281.1L803.9 281.6L804.3 283.4L804.7 289.5L805.2 285.1L805.6 287.0L806.0 282.2L806.4 287.2L806.9 288.2L807.3 282.5L807.7 288.1L808.1 289.9L808.6 282.8L809.0 284.3L809.4 280.5L809.9 281.5L810.3 279.4L810.7 279.7L811.1 280.3L811.6 290.2L812.0 288.9L812.4 287.5L812.8 278.3L813.3 279.9L813.7 279.2L814.1 278.3L814.5 288.9L815.0 286.5L815.4 262.5L815.8 262.5L816.2 262.5L816.7 262.5L817.1 288.5L817.5 282.6L818.0 288.6L818.4 281.9L818.8 288.8L819.2 288.2L819.7 285.0L820.1 285.0L820.5 278.5L820.9 277.5L821.4 278.9L821.8 282.5L822.2 289.6L822.6 279.8L823.1 279.9L823.5 278.3L823.9 282.2L824.3 282.2L824.8 289.6L825.2 287.8L825.6 287.3L826.0 276.8L826.5 279.5L826.9 278.6L827.3 286.9L827.8 282.5L828.2 282.5L828.6 283.6L829.0 287.2L829.5 289.7L829.9 284.6L830.3 283.3L830.7 289.8L831.2 283.1L831.6 285.0L832.0 285.0L832.4 281.3L832.9 282.1L833.3 280.9L833.7 289.5L834.1 283.7L834.6 288.1L835.0 284.5L835.4 285.5L835.8 289.1L836.3 284.0L836.7 282.1L837.1 288.2L837.6 281.3L838.0 286.3L838.4 283.7L838.8 284.2L839.3 288.6L839.7 289.2L840.1 290.5L840.5 289.7L841.0 290.2L841.4 291.1L841.8 283.2L842.2 282.8L842.7 280.3L843.1 284.5L843.5 281.2L843.9 282.1L844.4 283.9L844.8 283.8L845.2 289.7L845.7 284.6L846.1 288.6L846.5 280.6L846.9 288.6L847.4 289.0L847.8 280.8L848.2 283.3L848.6 288.0L849.1 281.6L849.5 289.8L849.9 291.6L850.3 290.2L850.8 288.2L851.2 289.5L851.6 290.3L852.0 290.4L852.5 283.2L852.9 288.2L853.3 281.1L853.7 290.3L854.2 281.0L854.6 282.6L855.0 287.4L855.5 291.4L855.9 294.2L856.3 294.5L856.7 288.3L857.2 291.3L857.6 293.5L858.0 295.0L858.4 289.3L858.9 280.1L859.3 288.5L859.7 290.5L860.1 280.9L860.6 289.9L861.0 289.7L861.4 280.3L861.8 288.3L862.3 282.5L862.7 283.0L863.1 291.8L863.6 287.4L864.0 284.8L864.4 289.9L864.8 283.3L865.3 280.1L865.7 291.5L866.1 281.2L866.5 290.8L867.0 290.7L867.4 284.7L867.8 281.0L868.2 284.5L868.7 286.9L869.1 289.4L869.5 291.0L869.9 282.7L870.4 281.6L870.8 289.9L871.2 281.5L871.6 290.6L872.1 289.9L872.5 289.8L872.9 283.7L873.4 282.3L873.8 287.4L874.2 292.1L874.6 294.3L875.1 292.7L875.5 284.8L875.9 290.4L876.3 287.5L876.8 290.0L877.2 288.7L877.6 282.2L878.0 287.6L878.5 282.6L878.9 281.9L879.3 287.5L879.7 280.9L880.2 280.6L880.6 283.6L881.0 281.8L881.4 288.1L881.9 282.9L882.3 282.2L882.7 287.1L883.2 286.7L883.6 291.0L884.0 291.1L884.4 292.1L884.9 279.7L885.3 279.2L885.7 290.3L886.1 283.3L886.6 280.0L887.0 286.8L887.4 282.1L887.8 281.1L888.3 288.9L888.7 289.8L889.1 281.6L889.5 288.7L890.0 281.5L890.4 291.1L890.8 283.4L891.3 284.6L891.7 278.5L892.1 276.8L892.5 279.6L893.0 290.7L893.4 280.3L893.8 287.0L894.2 283.4L894.7 290.7L895.1 277.2L895.5 277.6L895.9 279.1L896.4 276.5L896.8 278.4L897.2 288.8L897.6 282.8L898.1 284.5L898.5 284.3L898.9 282.8L899.3 287.0L899.8 285.1L900.2 285.3L900.6 288.0L901.1 287.0L901.5 283.7L901.9 291.3L902.3 269.0L902.8 269.0L903.2 269.0L903.6 269.0L904.0 269.0L904.5 269.0L904.9 284.8L905.3 285.1L905.7 287.9L906.2 286.5L906.6 287.4L907.0 284.8L907.4 288.4L907.9 282.8L908.3 289.3L908.7 289.0L909.2 289.7L909.6 290.5L910.0 289.4L910.4 282.1L910.9 290.5L911.3 289.8L911.7 284.7L912.1 280.9L912.6 290.3L913.0 282.5L913.4 282.0L913.8 286.9L914.3 289.5L914.7 282.9L915.1 282.6L915.5 289.0L916.0 286.8L916.4 286.8L916.8 287.1L917.2 288.3L917.7 287.8L918.1 283.7L918.5 283.9L919.0 290.6L919.4 289.2L919.8 286.6L920.2 283.4L920.7 289.7L921.1 283.0L921.5 284.9L921.9 287.2L922.4 288.9L922.8 288.8L923.2 289.1L923.6 281.0L924.1 282.5L924.5 289.7L924.9 287.6L925.3 290.9L925.8 280.0L926.2 291.4L926.6 285.3L927.0 282.2L927.5 280.0L927.9 279.7L928.3 291.8L928.8 290.0L929.2 291.4L929.6 290.4L930.0 284.0L930.5 281.7L930.9 286.8L931.3 281.9L931.7 281.4L932.2 287.2L932.6 287.5L933.0 291.0L933.4 289.4L933.9 280.8L934.3 282.1L934.7 286.9L935.1 288.3L935.6 289.9L936.0 286.8L936.4 284.9L936.9 281.0L937.3 284.4L937.7 289.5L938.1 281.0L938.6 286.5L939.0 290.3L939.4 295.1L939.8 292.4L940.3 293.9L940.7 282.1L941.1 290.4L941.5 289.1L942.0 282.8L942.4 283.5L942.8 288.7L943.2 280.4L943.7 281.4L944.1 289.5L944.5 282.9L944.9 282.5L945.4 290.5L945.8 289.1L946.2 290.8L946.7 290.6L947.1 286.5L947.5 280.4L947.9 289.7L948.4 287.4L948.8 290.0L949.2 289.4L949.6 290.7L950.1 279.2L950.5 280.2L950.9 291.7L951.3 289.6L951.8 291.2L952.2 280.3L952.6 286.5L953.0 281.3L953.5 282.2L953.9 281.5L954.3 282.1L954.7 282.8L955.2 282.2L955.6 287.5L956.0 287.0L956.5 287.9L956.9 289.8L957.3 283.1L957.7 282.2L958.2 282.5L958.6 290.1L959.0 289.0L959.4 289.9L959.9 292.0L960.3 294.6L960.7 293.1L961.1 290.9L961.6 281.7L962.0 289.6L962.4 288.8L962.8 283.6L963.3 288.3L963.7 289.7L964.1 282.5L964.6 282.8L965.0 284.2L965.4 283.3L965.8 284.5L966.3 279.5L966.7 276.5L967.1 279.2L967.5 286.4L968.0 288.7L968.4 283.0L968.8 288.0L969.2 283.8L969.7 289.2L970.1 283.0L970.5 283.6L970.9 282.2L971.4 284.6L971.8 288.2L972.2 283.0L972.6 289.8L973.1 289.8L973.5 294.8L973.9 292.6L974.4 293.8L974.8 277.1L975.2 288.3L975.6 293.2L976.1 294.8L976.5 293.4L976.9 281.5L977.3 286.8L977.8 289.8L978.2 281.8L978.6 282.7L979.0 282.3L979.5 294.6L979.9 291.9L980.3 294.7L980.7 289.2L981.2 284.5L981.6 282.0L982.0 282.2L982.5 282.6L982.9 281.4L983.3 282.1L983.7 281.5L984.2 281.7L984.6 281.1L985.0 276.3L985.4 277.4L985.9 278.9L986.3 286.8L986.7 280.8L987.1 290.5L987.6 280.9L988.0 280.4L988.4 289.2L988.8 287.9L989.3 272.0L989.7 272.0L990.1 263.5L990.5 263.5L991.0 263.5L991.4 272.0L991.8 272.0L992.3 272.0L992.7 285.0L993.1 289.5L993.5 292.9L994.0 292.0L994.4 294.1L994.8 281.6L995.2 288.4L995.7 284.3L996.1 290.3L996.5 284.3L996.9 281.7L997.4 283.6L997.8 290.6L998.2 288.4L998.6 281.7L999.1 281.9L999.5 283.7L999.9 290.5L1000.3 286.3L1000.8 282.4L1001.2 282.4L1001.6 282.4L1002.1 286.8L1002.5 281.7L1002.9 280.7L1003.3 290.4L1003.8 288.9L1004.2 288.2L1004.6 281.6L1005.0 283.8L1005.5 290.8L1005.9 282.2L1006.3 284.2L1006.7 281.2L1007.2 283.4L1007.6 280.9L1008.0 289.6L1008.4 290.7L1008.9 281.4L1009.3 283.9L1009.7 289.1L1010.2 282.9L1010.6 288.1L1011.0 283.1L1011.4 285.1L1011.9 287.8L1012.3 287.9L1012.7 287.9L1013.1 284.1L1013.6 286.4L1014.0 283.2L1014.4 288.7L1014.8 287.6L1015.3 284.5L1015.7 285.5L1016.1 286.7L1016.5 276.7L1017.0 277.0L1017.4 279.2L1017.8 283.3L1018.2 288.7L1018.7 286.5L1019.1 284.9L1019.5 285.1L1020.0 282.3L1020.4 284.1L1020.8 284.9L1021.2 282.1L1021.7 282.3L1022.1 282.3L1022.5 287.3L1022.9 281.8L1023.4 289.5L1023.8 287.7L1024.2 288.3L1024.6 281.2L1025.1 286.1L1025.5 281.9L1025.9 279.2L1026.3 278.6L1026.8 279.1L1027.2 284.0L1027.6 282.8L1028.1 281.5L1028.5 289.2L1028.9 281.9L1029.3 290.6L1029.8 289.3L1030.2 290.4L1030.6 289.2L1031.0 290.7L1031.5 290.6L1031.9 280.3L1032.3 282.1L1032.7 290.8L1033.2 287.1L1033.6 291.7L1034.0 284.2L1034.4 282.2L1034.9 291.2L1035.3 281.2L1035.7 283.2L1036.1 291.1L1036.6 282.9L1037.0 289.2" stroke="#f60000" stroke-width="3.3" fill="none" stroke-linejoin="round" stroke-linecap="round"/>
<path d="M524.6 533.6H1038.5" stroke="#0000f0" stroke-width="4.4" fill="none"/>
<path d="M564.1 533.6V415.7 M646.8 533.6V351.4 M731.0 533.6V336 M816.2 533.6V437 M903.5 533.6V469 M990.4 533.6V453.1" stroke="#0000f0" stroke-width="3.6" fill="none" stroke-linecap="round"/>
<path d="M646.8 533.6V400 M816.2 533.6V452" stroke="#0000f0" stroke-width="4.4" fill="none"/>
<text x="859.1" y="227.1" font-size="25" font-family="Liberation Sans, Arial, sans-serif" fill="#e60000" font-weight="bold" textLength="135.3" lengthAdjust="spacingAndGlyphs" >AlN {10-12}</text>
<text x="855.4" y="396" font-size="25" font-family="Liberation Sans, Arial, sans-serif" fill="#0000cc" font-weight="bold" textLength="143.5" lengthAdjust="spacingAndGlyphs" >GaN {10-12}</text>
<text x="525.3" y="561.8" font-size="33.5" font-family="Liberation Sans, Arial, sans-serif" fill="#000" text-anchor="middle" >0</text>
<text x="610.5" y="561.8" font-size="33.5" font-family="Liberation Sans, Arial, sans-serif" fill="#000" textLength="39.6" lengthAdjust="spacingAndGlyphs" text-anchor="middle" >60</text>
<text x="695.8" y="561.8" font-size="33.5" font-family="Liberation Sans, Arial, sans-serif" fill="#000" textLength="57.8" lengthAdjust="spacingAndGlyphs" text-anchor="middle" >120</text>
<text x="781.0" y="561.8" font-size="33.5" font-family="Liberation Sans, Arial, sans-serif" fill="#000" textLength="57.8" lengthAdjust="spacingAndGlyphs" text-anchor="middle" >180</text>
<text x="866.2" y="561.8" font-size="33.5" font-family="Liberation Sans, Arial, sans-serif" fill="#000" textLength="57.8" lengthAdjust="spacingAndGlyphs" text-anchor="middle" >240</text>
<text x="951.5" y="561.8" font-size="33.5" font-family="Liberation Sans, Arial, sans-serif" fill="#000" textLength="57.8" lengthAdjust="spacingAndGlyphs" text-anchor="middle" >300</text>
<text x="1036.7" y="561.8" font-size="33.5" font-family="Liberation Sans, Arial, sans-serif" fill="#000" textLength="57.8" lengthAdjust="spacingAndGlyphs" text-anchor="middle" >360</text>
<text x="748.6" y="607" font-size="37" font-family="Liberation Sans, Arial, sans-serif" fill="#000" textLength="86" lengthAdjust="spacingAndGlyphs"><tspan font-style="italic">φ</tspan> (° )</text>
<text transform="translate(511.4,534.8) rotate(-90)" font-size="36.5" font-family="Liberation Sans, Arial, sans-serif" fill="#000" textLength="353.5" lengthAdjust="spacingAndGlyphs">Intensity, <tspan font-style="italic">I</tspan> (arb. units)</text>
</svg>
</body></html>
